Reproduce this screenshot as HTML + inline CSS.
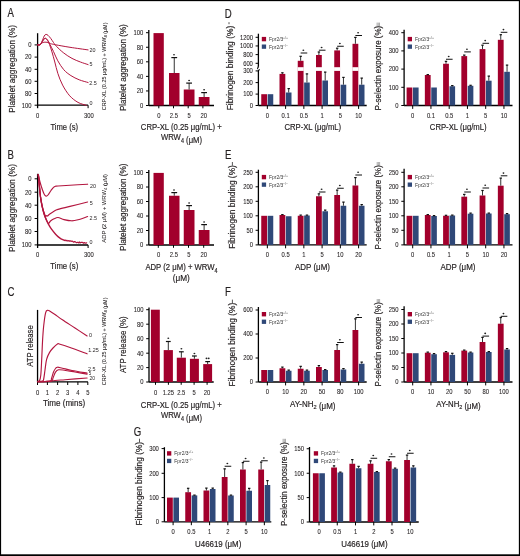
<!DOCTYPE html>
<html><head><meta charset="utf-8"><style>
html,body{margin:0;padding:0;background:#fff;}
svg{display:block;font-family:"Liberation Sans", sans-serif;will-change:transform;}
text{stroke:#231f20;stroke-width:0.18px;}
</style></head><body>
<svg width="520" height="556" viewBox="0 0 520 556">
<rect x="0" y="0" width="520" height="556" fill="#fff"/>
<text x="7.50" y="17.40" font-size="12.2" text-anchor="start" textLength="6.43" lengthAdjust="spacingAndGlyphs" fill="#231f20">A</text>
<text x="7.50" y="158.90" font-size="12.2" text-anchor="start" textLength="6.43" lengthAdjust="spacingAndGlyphs" fill="#231f20">B</text>
<text x="7.50" y="296.30" font-size="12.2" text-anchor="start" textLength="6.96" lengthAdjust="spacingAndGlyphs" fill="#231f20">C</text>
<text x="224.70" y="17.60" font-size="12.2" text-anchor="start" textLength="6.96" lengthAdjust="spacingAndGlyphs" fill="#231f20">D</text>
<text x="224.90" y="158.90" font-size="12.2" text-anchor="start" textLength="6.43" lengthAdjust="spacingAndGlyphs" fill="#231f20">E</text>
<text x="225.00" y="296.30" font-size="12.2" text-anchor="start" textLength="5.89" lengthAdjust="spacingAndGlyphs" fill="#231f20">F</text>
<text x="133.70" y="436.20" font-size="12.2" text-anchor="start" textLength="7.50" lengthAdjust="spacingAndGlyphs" fill="#231f20">G</text>
<line x1="37.60" y1="33.20" x2="37.60" y2="108.20" stroke="#000" stroke-width="1.3"/>
<line x1="37.60" y1="105.20" x2="88.10" y2="105.20" stroke="#000" stroke-width="1.3"/>
<line x1="88.10" y1="105.20" x2="88.10" y2="108.20" stroke="#000" stroke-width="1.0"/>
<line x1="34.60" y1="44.90" x2="37.60" y2="44.90" stroke="#000" stroke-width="1.0"/>
<text x="31.50" y="47.20" font-size="6.5" text-anchor="end" textLength="3.25" lengthAdjust="spacingAndGlyphs" fill="#231f20" style="stroke-width:0.08px">0</text>
<line x1="34.60" y1="57.10" x2="37.60" y2="57.10" stroke="#000" stroke-width="1.0"/>
<text x="31.50" y="59.40" font-size="6.5" text-anchor="end" textLength="6.51" lengthAdjust="spacingAndGlyphs" fill="#231f20" style="stroke-width:0.08px">20</text>
<line x1="34.60" y1="69.30" x2="37.60" y2="69.30" stroke="#000" stroke-width="1.0"/>
<text x="31.50" y="71.60" font-size="6.5" text-anchor="end" textLength="6.51" lengthAdjust="spacingAndGlyphs" fill="#231f20" style="stroke-width:0.08px">40</text>
<line x1="34.60" y1="81.30" x2="37.60" y2="81.30" stroke="#000" stroke-width="1.0"/>
<text x="31.50" y="83.60" font-size="6.5" text-anchor="end" textLength="6.51" lengthAdjust="spacingAndGlyphs" fill="#231f20" style="stroke-width:0.08px">60</text>
<line x1="34.60" y1="93.50" x2="37.60" y2="93.50" stroke="#000" stroke-width="1.0"/>
<text x="31.50" y="95.80" font-size="6.5" text-anchor="end" textLength="6.51" lengthAdjust="spacingAndGlyphs" fill="#231f20" style="stroke-width:0.08px">80</text>
<line x1="34.60" y1="105.20" x2="37.60" y2="105.20" stroke="#000" stroke-width="1.0"/>
<text x="31.50" y="107.50" font-size="6.5" text-anchor="end" textLength="9.76" lengthAdjust="spacingAndGlyphs" fill="#231f20" style="stroke-width:0.08px">100</text>
<text x="37.60" y="117.80" font-size="6.5" text-anchor="middle" textLength="3.25" lengthAdjust="spacingAndGlyphs" fill="#231f20" style="stroke-width:0.08px">0</text>
<text x="89.00" y="117.80" font-size="6.5" text-anchor="middle" textLength="9.76" lengthAdjust="spacingAndGlyphs" fill="#231f20" style="stroke-width:0.08px">300</text>
<text x="64.25" y="129.80" font-size="8.7" text-anchor="middle" textLength="27.70" lengthAdjust="spacingAndGlyphs" fill="#231f20">Time (s)</text>
<text x="14.90" y="68.90" font-size="8.4" text-anchor="middle" textLength="87.80" lengthAdjust="spacingAndGlyphs" fill="#231f20" transform="rotate(-90 14.90 68.90)">Platelet aggregation (%)</text>
<text x="106.00" y="66.40" font-size="5.2" text-anchor="middle" textLength="87.80" lengthAdjust="spacingAndGlyphs" fill="#231f20" transform="rotate(-90 106.00 66.40)" style="stroke-width:0.05px">CRP-XL (0.25 μg/mL) + WRW<tspan font-size="3.64" dy="1.35">4</tspan><tspan dy="-1.35"></tspan> (μM)</text>
<path d="M37.60,44.80 C38.03,44.78 39.32,45.10 40.20,44.70 C41.08,44.30 41.75,42.80 42.90,42.40 C44.05,42.00 45.83,42.10 47.10,42.30 C48.37,42.50 49.12,43.19 50.50,43.60 C51.88,44.01 52.15,44.13 55.40,44.75 C58.65,45.37 64.55,46.44 70.00,47.30 C75.45,48.16 85.08,49.47 88.10,49.90" fill="none" stroke="#b3163f" stroke-width="1.0" stroke-linejoin="round" stroke-linecap="round"/>
<path d="M37.60,44.80 C38.03,44.77 39.37,45.40 40.20,44.60 C41.03,43.80 41.93,41.43 42.60,40.00 C43.27,38.57 43.65,36.93 44.20,36.00 C44.75,35.07 45.27,34.52 45.90,34.40 C46.53,34.28 47.18,34.62 48.00,35.30 C48.82,35.98 49.88,37.30 50.80,38.50 C51.72,39.70 52.53,41.17 53.50,42.50 C54.47,43.83 54.89,44.75 56.60,46.50 C58.31,48.25 61.18,51.02 63.75,53.00 C66.32,54.98 69.22,56.90 72.00,58.40 C74.78,59.90 77.72,60.97 80.40,62.00 C83.08,63.03 86.82,64.17 88.10,64.60" fill="none" stroke="#b3163f" stroke-width="1.0" stroke-linejoin="round" stroke-linecap="round"/>
<path d="M37.60,44.80 C38.03,44.77 39.30,45.32 40.20,44.60 C41.10,43.88 42.20,41.55 43.00,40.50 C43.80,39.45 44.28,38.42 45.00,38.30 C45.72,38.18 46.47,38.77 47.30,39.80 C48.13,40.83 48.97,42.55 50.00,44.50 C51.03,46.45 52.20,48.78 53.50,51.50 C54.80,54.22 56.09,57.77 57.80,60.80 C59.51,63.83 61.57,67.23 63.75,69.70 C65.93,72.17 68.33,73.92 70.90,75.60 C73.48,77.28 76.33,78.65 79.20,79.80 C82.07,80.95 86.62,82.05 88.10,82.50" fill="none" stroke="#b3163f" stroke-width="1.0" stroke-linejoin="round" stroke-linecap="round"/>
<path d="M37.60,44.80 C38.03,44.77 39.30,45.32 40.20,44.60 C41.10,43.88 42.20,41.55 43.00,40.50 C43.80,39.45 44.30,38.42 45.00,38.30 C45.70,38.18 46.45,38.77 47.20,39.80 C47.95,40.83 48.70,42.47 49.50,44.50 C50.30,46.53 51.12,49.08 52.00,52.00 C52.88,54.92 53.83,58.45 54.80,62.00 C55.77,65.55 56.50,69.45 57.80,73.30 C59.10,77.15 60.62,81.35 62.60,85.10 C64.58,88.85 67.13,92.92 69.70,95.80 C72.27,98.68 75.23,100.82 78.00,102.40 C80.77,103.98 84.92,104.82 86.30,105.30" fill="none" stroke="#b3163f" stroke-width="1.0" stroke-linejoin="round" stroke-linecap="round"/>
<text x="92.60" y="51.80" font-size="6.0" text-anchor="middle" textLength="6.01" lengthAdjust="spacingAndGlyphs" fill="#231f20" style="stroke-width:0px">20</text>
<text x="91.10" y="66.00" font-size="6.0" text-anchor="middle" textLength="3.00" lengthAdjust="spacingAndGlyphs" fill="#231f20" style="stroke-width:0px">5</text>
<text x="93.00" y="84.60" font-size="6.0" text-anchor="middle" textLength="7.51" lengthAdjust="spacingAndGlyphs" fill="#231f20" style="stroke-width:0px">2.5</text>
<text x="91.10" y="105.30" font-size="6.0" text-anchor="middle" textLength="3.00" lengthAdjust="spacingAndGlyphs" fill="#231f20" style="stroke-width:0px">0</text>
<line x1="148.80" y1="30.00" x2="148.80" y2="105.50" stroke="#000" stroke-width="1.3"/>
<line x1="146.00" y1="32.70" x2="148.80" y2="32.70" stroke="#000" stroke-width="1.0"/>
<text x="143.30" y="35.00" font-size="6.5" text-anchor="end" textLength="9.76" lengthAdjust="spacingAndGlyphs" fill="#231f20" style="stroke-width:0.08px">100</text>
<line x1="146.00" y1="47.26" x2="148.80" y2="47.26" stroke="#000" stroke-width="1.0"/>
<text x="143.30" y="49.56" font-size="6.5" text-anchor="end" textLength="6.51" lengthAdjust="spacingAndGlyphs" fill="#231f20" style="stroke-width:0.08px">80</text>
<line x1="146.00" y1="61.82" x2="148.80" y2="61.82" stroke="#000" stroke-width="1.0"/>
<text x="143.30" y="64.12" font-size="6.5" text-anchor="end" textLength="6.51" lengthAdjust="spacingAndGlyphs" fill="#231f20" style="stroke-width:0.08px">60</text>
<line x1="146.00" y1="76.38" x2="148.80" y2="76.38" stroke="#000" stroke-width="1.0"/>
<text x="143.30" y="78.68" font-size="6.5" text-anchor="end" textLength="6.51" lengthAdjust="spacingAndGlyphs" fill="#231f20" style="stroke-width:0.08px">40</text>
<line x1="146.00" y1="90.94" x2="148.80" y2="90.94" stroke="#000" stroke-width="1.0"/>
<text x="143.30" y="93.24" font-size="6.5" text-anchor="end" textLength="6.51" lengthAdjust="spacingAndGlyphs" fill="#231f20" style="stroke-width:0.08px">20</text>
<line x1="146.00" y1="105.50" x2="148.80" y2="105.50" stroke="#000" stroke-width="1.0"/>
<text x="143.30" y="107.80" font-size="6.5" text-anchor="end" textLength="3.25" lengthAdjust="spacingAndGlyphs" fill="#231f20" style="stroke-width:0.08px">0</text>
<line x1="148.80" y1="105.50" x2="214.00" y2="105.50" stroke="#000" stroke-width="1.3"/>
<line x1="158.80" y1="105.50" x2="158.80" y2="108.30" stroke="#000" stroke-width="1.0"/>
<line x1="173.50" y1="105.50" x2="173.50" y2="108.30" stroke="#000" stroke-width="1.0"/>
<line x1="188.20" y1="105.50" x2="188.20" y2="108.30" stroke="#000" stroke-width="1.0"/>
<line x1="202.90" y1="105.50" x2="202.90" y2="108.30" stroke="#000" stroke-width="1.0"/>
<rect x="153.50" y="33.10" width="10.30" height="72.40" fill="#a2002c"/>
<rect x="169.00" y="73.00" width="10.50" height="32.50" fill="#a2002c"/>
<line x1="174.25" y1="73.00" x2="174.25" y2="57.50" stroke="#333" stroke-width="1.0"/>
<line x1="171.35" y1="57.60" x2="177.15" y2="57.60" stroke="#111" stroke-width="1.2"/>
<rect x="183.75" y="89.50" width="10.75" height="16.00" fill="#a2002c"/>
<line x1="189.12" y1="89.50" x2="189.12" y2="83.00" stroke="#333" stroke-width="1.0"/>
<line x1="186.22" y1="83.10" x2="192.03" y2="83.10" stroke="#111" stroke-width="1.2"/>
<rect x="198.75" y="97.00" width="10.75" height="8.50" fill="#a2002c"/>
<line x1="204.12" y1="97.00" x2="204.12" y2="92.50" stroke="#333" stroke-width="1.0"/>
<line x1="201.22" y1="92.60" x2="207.03" y2="92.60" stroke="#111" stroke-width="1.2"/>
<ellipse cx="174.00" cy="54.80" rx="0.95" ry="0.8" fill="#222"/>
<ellipse cx="189.10" cy="80.50" rx="0.95" ry="0.8" fill="#222"/>
<ellipse cx="204.10" cy="89.80" rx="0.95" ry="0.8" fill="#222"/>
<text x="158.80" y="117.60" font-size="6.5" text-anchor="middle" textLength="3.25" lengthAdjust="spacingAndGlyphs" fill="#231f20" style="stroke-width:0.08px">0</text>
<text x="173.90" y="117.60" font-size="6.5" text-anchor="middle" textLength="8.13" lengthAdjust="spacingAndGlyphs" fill="#231f20" style="stroke-width:0.08px">2.5</text>
<text x="189.00" y="117.60" font-size="6.5" text-anchor="middle" textLength="3.25" lengthAdjust="spacingAndGlyphs" fill="#231f20" style="stroke-width:0.08px">5</text>
<text x="203.70" y="117.60" font-size="6.5" text-anchor="middle" textLength="6.51" lengthAdjust="spacingAndGlyphs" fill="#231f20" style="stroke-width:0.08px">20</text>
<text x="125.90" y="67.65" font-size="8.4" text-anchor="middle" textLength="86.90" lengthAdjust="spacingAndGlyphs" fill="#231f20" transform="rotate(-90 125.90 67.65)">Platelet aggregation (%)</text>
<text x="181.25" y="130.10" font-size="9.0" text-anchor="middle" textLength="80.90" lengthAdjust="spacingAndGlyphs" fill="#231f20">CRP-XL (0.25 μg/mL) +</text>
<text x="181.50" y="140.40" font-size="9.0" text-anchor="middle" textLength="41.20" lengthAdjust="spacingAndGlyphs" fill="#231f20">WRW<tspan font-size="6.30" dy="2.34">4</tspan><tspan dy="-2.34"></tspan> (μM)</text>
<line x1="37.60" y1="173.80" x2="37.60" y2="248.00" stroke="#000" stroke-width="1.3"/>
<line x1="37.60" y1="245.00" x2="88.10" y2="245.00" stroke="#000" stroke-width="1.3"/>
<line x1="88.10" y1="245.00" x2="88.10" y2="248.00" stroke="#000" stroke-width="1.0"/>
<line x1="34.60" y1="178.80" x2="37.60" y2="178.80" stroke="#000" stroke-width="1.0"/>
<text x="31.50" y="181.10" font-size="6.5" text-anchor="end" textLength="3.25" lengthAdjust="spacingAndGlyphs" fill="#231f20" style="stroke-width:0.08px">0</text>
<line x1="34.60" y1="192.20" x2="37.60" y2="192.20" stroke="#000" stroke-width="1.0"/>
<text x="31.50" y="194.50" font-size="6.5" text-anchor="end" textLength="6.51" lengthAdjust="spacingAndGlyphs" fill="#231f20" style="stroke-width:0.08px">20</text>
<line x1="34.60" y1="205.20" x2="37.60" y2="205.20" stroke="#000" stroke-width="1.0"/>
<text x="31.50" y="207.50" font-size="6.5" text-anchor="end" textLength="6.51" lengthAdjust="spacingAndGlyphs" fill="#231f20" style="stroke-width:0.08px">40</text>
<line x1="34.60" y1="218.50" x2="37.60" y2="218.50" stroke="#000" stroke-width="1.0"/>
<text x="31.50" y="220.80" font-size="6.5" text-anchor="end" textLength="6.51" lengthAdjust="spacingAndGlyphs" fill="#231f20" style="stroke-width:0.08px">60</text>
<line x1="34.60" y1="231.50" x2="37.60" y2="231.50" stroke="#000" stroke-width="1.0"/>
<text x="31.50" y="233.80" font-size="6.5" text-anchor="end" textLength="6.51" lengthAdjust="spacingAndGlyphs" fill="#231f20" style="stroke-width:0.08px">80</text>
<line x1="34.60" y1="244.90" x2="37.60" y2="244.90" stroke="#000" stroke-width="1.0"/>
<text x="31.50" y="247.20" font-size="6.5" text-anchor="end" textLength="9.76" lengthAdjust="spacingAndGlyphs" fill="#231f20" style="stroke-width:0.08px">100</text>
<text x="37.60" y="257.00" font-size="6.5" text-anchor="middle" textLength="3.25" lengthAdjust="spacingAndGlyphs" fill="#231f20" style="stroke-width:0.08px">0</text>
<text x="88.90" y="257.00" font-size="6.5" text-anchor="middle" textLength="9.76" lengthAdjust="spacingAndGlyphs" fill="#231f20" style="stroke-width:0.08px">300</text>
<text x="64.30" y="269.20" font-size="8.7" text-anchor="middle" textLength="28.00" lengthAdjust="spacingAndGlyphs" fill="#231f20">Time (s)</text>
<text x="14.90" y="208.10" font-size="8.4" text-anchor="middle" textLength="88.00" lengthAdjust="spacingAndGlyphs" fill="#231f20" transform="rotate(-90 14.90 208.10)">Platelet aggregation (%)</text>
<text x="106.00" y="208.30" font-size="5.2" text-anchor="middle" textLength="68.80" lengthAdjust="spacingAndGlyphs" fill="#231f20" transform="rotate(-90 106.00 208.30)" style="stroke-width:0.05px">ADP (2 μM) + WRW<tspan font-size="3.64" dy="1.35">4</tspan><tspan dy="-1.35"></tspan> (μM)</text>
<path d="M38.30,174.50 C38.58,175.75 39.30,179.42 40.00,182.00 C40.70,184.58 41.75,187.87 42.50,190.00 C43.25,192.13 43.88,193.78 44.50,194.80 C45.12,195.82 45.62,196.07 46.20,196.10 C46.78,196.13 47.20,195.93 48.00,195.00 C48.80,194.07 50.08,191.78 51.00,190.50 C51.92,189.22 52.73,188.02 53.50,187.30 C54.27,186.58 54.85,186.42 55.60,186.20 C56.35,185.98 55.60,186.17 58.00,186.00 C60.40,185.83 65.07,185.50 70.00,185.20 C74.93,184.90 84.67,184.37 87.60,184.20" fill="none" stroke="#b3163f" stroke-width="1.15" stroke-linejoin="round" stroke-linecap="round"/>
<path d="M38.30,174.50 C38.47,176.25 38.93,181.28 39.30,185.00 C39.67,188.72 40.02,193.22 40.50,196.80 C40.98,200.38 41.60,203.83 42.20,206.50 C42.80,209.17 43.55,211.18 44.10,212.80 C44.65,214.42 45.10,215.73 45.50,216.20 C45.90,216.67 46.20,215.62 46.50,215.60 C46.80,215.58 46.75,216.37 47.30,216.10 C47.85,215.83 48.68,214.82 49.80,214.00 C50.92,213.18 52.63,211.97 54.00,211.20 C55.37,210.43 55.33,210.20 58.00,209.40 C60.67,208.60 65.07,207.63 70.00,206.40 C74.93,205.17 84.67,202.73 87.60,202.00" fill="none" stroke="#b3163f" stroke-width="1.15" stroke-linejoin="round" stroke-linecap="round"/>
<path d="M38.30,174.50 C38.47,176.25 38.93,181.28 39.30,185.00 C39.67,188.72 40.02,193.22 40.50,196.80 C40.98,200.38 41.60,203.63 42.20,206.50 C42.80,209.37 43.43,211.83 44.10,214.00 C44.77,216.17 45.48,217.93 46.20,219.50 C46.92,221.07 47.68,223.15 48.40,223.40 C49.12,223.65 49.57,221.77 50.50,221.00 C51.43,220.23 52.75,219.38 54.00,218.80 C55.25,218.22 56.33,217.37 58.00,217.50 C59.67,217.63 61.75,219.05 64.00,219.60 C66.25,220.15 69.17,220.77 71.50,220.80 C73.83,220.83 75.32,220.52 78.00,219.80 C80.68,219.08 86.00,217.05 87.60,216.50" fill="none" stroke="#b3163f" stroke-width="1.15" stroke-linejoin="round" stroke-linecap="round"/>
<path d="M38.30,174.50 C38.47,176.25 38.93,181.28 39.30,185.00 C39.67,188.72 40.02,193.22 40.50,196.80 C40.98,200.38 41.60,203.63 42.20,206.50 C42.80,209.37 43.43,211.83 44.10,214.00 C44.77,216.17 45.48,217.82 46.20,219.50 C46.92,221.18 47.52,222.48 48.40,224.10 C49.28,225.72 50.30,227.52 51.50,229.20 C52.70,230.88 54.52,232.97 55.60,234.20 C56.68,235.43 57.10,235.83 58.00,236.60 C58.90,237.37 59.88,238.17 61.00,238.80 C62.12,239.43 64.08,240.13 64.70,240.40" fill="none" stroke="#b3163f" stroke-width="1.4" stroke-linejoin="round" stroke-linecap="round"/>
<polyline points="64.70,240.21 65.40,240.14 66.10,240.82 66.80,240.30 67.50,240.93 68.20,240.86 68.90,240.63 69.60,241.24 70.30,240.83 71.00,241.37 71.70,241.08 72.40,241.20 73.10,241.67 73.80,242.20 74.50,241.52 75.20,241.72 75.90,242.25 76.60,242.69 77.30,242.36 78.00,242.24 78.70,242.95 79.40,242.00 80.10,242.96 80.80,242.40 81.50,242.30 82.20,242.32 82.90,242.58 83.60,243.19 84.30,242.53 85.00,243.01 85.70,243.10 86.40,242.84 87.10,243.05" fill="none" stroke="#b3163f" stroke-width="1.2" stroke-linejoin="round"/>
<text x="93.00" y="187.80" font-size="6.0" text-anchor="middle" textLength="6.01" lengthAdjust="spacingAndGlyphs" fill="#231f20" style="stroke-width:0px">20</text>
<text x="91.20" y="205.30" font-size="6.0" text-anchor="middle" textLength="3.00" lengthAdjust="spacingAndGlyphs" fill="#231f20" style="stroke-width:0px">5</text>
<text x="93.30" y="219.50" font-size="6.0" text-anchor="middle" textLength="7.51" lengthAdjust="spacingAndGlyphs" fill="#231f20" style="stroke-width:0px">2.5</text>
<text x="91.00" y="243.70" font-size="6.0" text-anchor="middle" textLength="3.00" lengthAdjust="spacingAndGlyphs" fill="#231f20" style="stroke-width:0px">0</text>
<line x1="148.80" y1="170.00" x2="148.80" y2="245.00" stroke="#000" stroke-width="1.3"/>
<line x1="146.00" y1="172.50" x2="148.80" y2="172.50" stroke="#000" stroke-width="1.0"/>
<text x="143.30" y="174.80" font-size="6.5" text-anchor="end" textLength="9.76" lengthAdjust="spacingAndGlyphs" fill="#231f20" style="stroke-width:0.08px">100</text>
<line x1="146.00" y1="187.00" x2="148.80" y2="187.00" stroke="#000" stroke-width="1.0"/>
<text x="143.30" y="189.30" font-size="6.5" text-anchor="end" textLength="6.51" lengthAdjust="spacingAndGlyphs" fill="#231f20" style="stroke-width:0.08px">80</text>
<line x1="146.00" y1="201.50" x2="148.80" y2="201.50" stroke="#000" stroke-width="1.0"/>
<text x="143.30" y="203.80" font-size="6.5" text-anchor="end" textLength="6.51" lengthAdjust="spacingAndGlyphs" fill="#231f20" style="stroke-width:0.08px">60</text>
<line x1="146.00" y1="216.00" x2="148.80" y2="216.00" stroke="#000" stroke-width="1.0"/>
<text x="143.30" y="218.30" font-size="6.5" text-anchor="end" textLength="6.51" lengthAdjust="spacingAndGlyphs" fill="#231f20" style="stroke-width:0.08px">40</text>
<line x1="146.00" y1="230.50" x2="148.80" y2="230.50" stroke="#000" stroke-width="1.0"/>
<text x="143.30" y="232.80" font-size="6.5" text-anchor="end" textLength="6.51" lengthAdjust="spacingAndGlyphs" fill="#231f20" style="stroke-width:0.08px">20</text>
<line x1="146.00" y1="245.00" x2="148.80" y2="245.00" stroke="#000" stroke-width="1.0"/>
<text x="143.30" y="247.30" font-size="6.5" text-anchor="end" textLength="3.25" lengthAdjust="spacingAndGlyphs" fill="#231f20" style="stroke-width:0.08px">0</text>
<line x1="148.80" y1="245.00" x2="214.00" y2="245.00" stroke="#000" stroke-width="1.3"/>
<line x1="158.30" y1="245.00" x2="158.30" y2="247.80" stroke="#000" stroke-width="1.0"/>
<line x1="173.50" y1="245.00" x2="173.50" y2="247.80" stroke="#000" stroke-width="1.0"/>
<line x1="188.50" y1="245.00" x2="188.50" y2="247.80" stroke="#000" stroke-width="1.0"/>
<line x1="203.70" y1="245.00" x2="203.70" y2="247.80" stroke="#000" stroke-width="1.0"/>
<rect x="153.50" y="172.90" width="10.30" height="72.10" fill="#a2002c"/>
<rect x="169.00" y="195.75" width="10.50" height="49.25" fill="#a2002c"/>
<line x1="174.25" y1="195.75" x2="174.25" y2="192.50" stroke="#333" stroke-width="1.0"/>
<line x1="171.35" y1="192.60" x2="177.15" y2="192.60" stroke="#111" stroke-width="1.2"/>
<rect x="183.75" y="210.00" width="10.75" height="35.00" fill="#a2002c"/>
<line x1="189.12" y1="210.00" x2="189.12" y2="205.50" stroke="#333" stroke-width="1.0"/>
<line x1="186.22" y1="205.60" x2="192.03" y2="205.60" stroke="#111" stroke-width="1.2"/>
<rect x="198.75" y="230.00" width="10.75" height="15.00" fill="#a2002c"/>
<line x1="204.12" y1="230.00" x2="204.12" y2="224.50" stroke="#333" stroke-width="1.0"/>
<line x1="201.22" y1="224.60" x2="207.03" y2="224.60" stroke="#111" stroke-width="1.2"/>
<ellipse cx="174.00" cy="190.00" rx="0.95" ry="0.8" fill="#222"/>
<ellipse cx="189.10" cy="203.00" rx="0.95" ry="0.8" fill="#222"/>
<ellipse cx="204.10" cy="222.00" rx="0.95" ry="0.8" fill="#222"/>
<text x="158.60" y="256.80" font-size="6.5" text-anchor="middle" textLength="3.25" lengthAdjust="spacingAndGlyphs" fill="#231f20" style="stroke-width:0.08px">0</text>
<text x="173.90" y="256.80" font-size="6.5" text-anchor="middle" textLength="8.13" lengthAdjust="spacingAndGlyphs" fill="#231f20" style="stroke-width:0.08px">2.5</text>
<text x="188.80" y="256.80" font-size="6.5" text-anchor="middle" textLength="3.25" lengthAdjust="spacingAndGlyphs" fill="#231f20" style="stroke-width:0.08px">5</text>
<text x="203.70" y="256.80" font-size="6.5" text-anchor="middle" textLength="6.51" lengthAdjust="spacingAndGlyphs" fill="#231f20" style="stroke-width:0.08px">20</text>
<text x="125.90" y="207.30" font-size="8.4" text-anchor="middle" textLength="87.50" lengthAdjust="spacingAndGlyphs" fill="#231f20" transform="rotate(-90 125.90 207.30)">Platelet aggregation (%)</text>
<text x="181.50" y="270.30" font-size="9.0" text-anchor="middle" textLength="72.20" lengthAdjust="spacingAndGlyphs" fill="#231f20">ADP (2 μM) + WRW<tspan font-size="6.30" dy="2.34">4</tspan><tspan dy="-2.34"></tspan></text>
<text x="181.25" y="280.50" font-size="9.0" text-anchor="middle" textLength="17.10" lengthAdjust="spacingAndGlyphs" fill="#231f20">(μM)</text>
<line x1="37.55" y1="309.90" x2="37.55" y2="381.90" stroke="#000" stroke-width="1.3"/>
<line x1="37.55" y1="381.90" x2="87.90" y2="381.90" stroke="#000" stroke-width="1.3"/>
<line x1="37.50" y1="381.90" x2="37.50" y2="385.00" stroke="#000" stroke-width="1.0"/>
<text x="37.50" y="394.50" font-size="6.5" text-anchor="middle" textLength="3.25" lengthAdjust="spacingAndGlyphs" fill="#231f20" style="stroke-width:0.08px">0</text>
<line x1="47.40" y1="381.90" x2="47.40" y2="385.00" stroke="#000" stroke-width="1.0"/>
<text x="47.40" y="394.50" font-size="6.5" text-anchor="middle" textLength="3.25" lengthAdjust="spacingAndGlyphs" fill="#231f20" style="stroke-width:0.08px">1</text>
<line x1="57.60" y1="381.90" x2="57.60" y2="385.00" stroke="#000" stroke-width="1.0"/>
<text x="57.60" y="394.50" font-size="6.5" text-anchor="middle" textLength="3.25" lengthAdjust="spacingAndGlyphs" fill="#231f20" style="stroke-width:0.08px">2</text>
<line x1="67.70" y1="381.90" x2="67.70" y2="385.00" stroke="#000" stroke-width="1.0"/>
<text x="67.70" y="394.50" font-size="6.5" text-anchor="middle" textLength="3.25" lengthAdjust="spacingAndGlyphs" fill="#231f20" style="stroke-width:0.08px">3</text>
<line x1="77.90" y1="381.90" x2="77.90" y2="385.00" stroke="#000" stroke-width="1.0"/>
<text x="77.90" y="394.50" font-size="6.5" text-anchor="middle" textLength="3.25" lengthAdjust="spacingAndGlyphs" fill="#231f20" style="stroke-width:0.08px">4</text>
<line x1="87.80" y1="381.90" x2="87.80" y2="385.00" stroke="#000" stroke-width="1.0"/>
<text x="87.80" y="394.50" font-size="6.5" text-anchor="middle" textLength="3.25" lengthAdjust="spacingAndGlyphs" fill="#231f20" style="stroke-width:0.08px">5</text>
<text x="64.00" y="406.20" font-size="8.7" text-anchor="middle" textLength="42.20" lengthAdjust="spacingAndGlyphs" fill="#231f20">Time (mins)</text>
<text x="33.00" y="346.00" font-size="8.4" text-anchor="middle" textLength="41.40" lengthAdjust="spacingAndGlyphs" fill="#231f20" transform="rotate(-90 33.00 346.00)">ATP release</text>
<text x="106.00" y="341.40" font-size="5.2" text-anchor="middle" textLength="87.80" lengthAdjust="spacingAndGlyphs" fill="#231f20" transform="rotate(-90 106.00 341.40)" style="stroke-width:0.05px">CRP-XL (0.25 μg/mL) + WRW<tspan font-size="3.64" dy="1.35">4</tspan><tspan dy="-1.35"></tspan> (μM)</text>
<path d="M37.60,381.30 C37.92,381.22 38.97,381.85 39.50,380.80 C40.03,379.75 40.43,378.58 40.80,375.00 C41.17,371.42 41.40,365.13 41.70,359.30 C42.00,353.47 42.27,345.60 42.60,340.00 C42.93,334.40 43.20,330.23 43.70,325.70 C44.20,321.17 44.95,315.37 45.60,312.80 C46.25,310.23 46.87,310.57 47.60,310.30 C48.33,310.03 48.77,310.50 50.00,311.20 C51.23,311.90 52.93,313.07 55.00,314.50 C57.07,315.93 59.07,317.55 62.40,319.80 C65.73,322.05 70.88,325.30 75.00,328.00 C79.12,330.70 85.08,334.67 87.10,336.00" fill="none" stroke="#b3163f" stroke-width="1.15" stroke-linejoin="round" stroke-linecap="round"/>
<path d="M37.60,381.50 C38.42,381.42 41.48,381.42 42.50,381.00 C43.52,380.58 43.28,380.83 43.70,379.00 C44.12,377.17 44.52,373.28 45.00,370.00 C45.48,366.72 45.83,362.23 46.60,359.30 C47.37,356.37 48.53,354.28 49.60,352.40 C50.67,350.52 51.68,349.42 53.00,348.00 C54.32,346.58 56.33,344.53 57.50,343.90 C58.67,343.27 57.92,343.60 60.00,344.20 C62.08,344.80 65.48,345.90 70.00,347.50 C74.52,349.10 84.25,352.75 87.10,353.80" fill="none" stroke="#b3163f" stroke-width="1.15" stroke-linejoin="round" stroke-linecap="round"/>
<path d="M37.60,381.60 C39.67,381.55 47.68,381.82 50.00,381.30 C52.32,380.78 50.92,380.05 51.50,378.50 C52.08,376.95 52.83,373.67 53.50,372.00 C54.17,370.33 54.83,369.30 55.50,368.50 C56.17,367.70 56.35,367.25 57.50,367.20 C58.65,367.15 59.98,367.65 62.40,368.20 C64.82,368.75 67.88,369.68 72.00,370.50 C76.12,371.32 84.58,372.67 87.10,373.10" fill="none" stroke="#b3163f" stroke-width="1.15" stroke-linejoin="round" stroke-linecap="round"/>
<path d="M37.60,381.60 C39.83,381.55 48.43,381.90 51.00,381.30 C53.57,380.70 52.25,379.53 53.00,378.00 C53.75,376.47 54.58,373.47 55.50,372.10 C56.42,370.73 57.02,370.12 58.50,369.80 C59.98,369.48 61.65,369.83 64.40,370.20 C67.15,370.57 71.22,371.35 75.00,372.00 C78.78,372.65 85.08,373.75 87.10,374.10" fill="none" stroke="#b3163f" stroke-width="1.15" stroke-linejoin="round" stroke-linecap="round"/>
<path d="M37.60,381.60 C38.83,381.58 42.10,381.68 45.00,381.50 C47.90,381.32 51.67,380.80 55.00,380.50 C58.33,380.20 59.65,380.12 65.00,379.70 C70.35,379.28 83.42,378.28 87.10,378.00" fill="none" stroke="#b3163f" stroke-width="1.15" stroke-linejoin="round" stroke-linecap="round"/>
<text x="90.50" y="336.60" font-size="6.0" text-anchor="middle" textLength="3.00" lengthAdjust="spacingAndGlyphs" fill="#231f20" style="stroke-width:0px">0</text>
<text x="93.60" y="351.70" font-size="6.0" text-anchor="middle" textLength="10.51" lengthAdjust="spacingAndGlyphs" fill="#231f20" style="stroke-width:0px">1.25</text>
<text x="91.80" y="370.60" font-size="6.0" text-anchor="middle" textLength="7.51" lengthAdjust="spacingAndGlyphs" fill="#231f20" style="stroke-width:0px">2.5</text>
<text x="90.00" y="374.90" font-size="5.0" text-anchor="middle" textLength="2.50" lengthAdjust="spacingAndGlyphs" fill="#231f20" style="stroke-width:0px">5</text>
<text x="92.20" y="380.30" font-size="5.5" text-anchor="middle" textLength="5.51" lengthAdjust="spacingAndGlyphs" fill="#231f20" style="stroke-width:0px">20</text>
<line x1="149.00" y1="307.60" x2="149.00" y2="382.00" stroke="#000" stroke-width="1.3"/>
<line x1="146.20" y1="309.70" x2="149.00" y2="309.70" stroke="#000" stroke-width="1.0"/>
<text x="143.50" y="312.00" font-size="6.5" text-anchor="end" textLength="9.76" lengthAdjust="spacingAndGlyphs" fill="#231f20" style="stroke-width:0.08px">100</text>
<line x1="146.20" y1="324.20" x2="149.00" y2="324.20" stroke="#000" stroke-width="1.0"/>
<text x="143.50" y="326.50" font-size="6.5" text-anchor="end" textLength="6.51" lengthAdjust="spacingAndGlyphs" fill="#231f20" style="stroke-width:0.08px">80</text>
<line x1="146.20" y1="338.70" x2="149.00" y2="338.70" stroke="#000" stroke-width="1.0"/>
<text x="143.50" y="341.00" font-size="6.5" text-anchor="end" textLength="6.51" lengthAdjust="spacingAndGlyphs" fill="#231f20" style="stroke-width:0.08px">60</text>
<line x1="146.20" y1="353.20" x2="149.00" y2="353.20" stroke="#000" stroke-width="1.0"/>
<text x="143.50" y="355.50" font-size="6.5" text-anchor="end" textLength="6.51" lengthAdjust="spacingAndGlyphs" fill="#231f20" style="stroke-width:0.08px">40</text>
<line x1="146.20" y1="367.60" x2="149.00" y2="367.60" stroke="#000" stroke-width="1.0"/>
<text x="143.50" y="369.90" font-size="6.5" text-anchor="end" textLength="6.51" lengthAdjust="spacingAndGlyphs" fill="#231f20" style="stroke-width:0.08px">20</text>
<line x1="146.20" y1="382.00" x2="149.00" y2="382.00" stroke="#000" stroke-width="1.0"/>
<text x="143.50" y="384.30" font-size="6.5" text-anchor="end" textLength="3.25" lengthAdjust="spacingAndGlyphs" fill="#231f20" style="stroke-width:0.08px">0</text>
<line x1="149.00" y1="382.00" x2="213.70" y2="382.00" stroke="#000" stroke-width="1.3"/>
<line x1="155.50" y1="382.00" x2="155.50" y2="384.80" stroke="#000" stroke-width="1.0"/>
<line x1="168.40" y1="382.00" x2="168.40" y2="384.80" stroke="#000" stroke-width="1.0"/>
<line x1="181.20" y1="382.00" x2="181.20" y2="384.80" stroke="#000" stroke-width="1.0"/>
<line x1="194.10" y1="382.00" x2="194.10" y2="384.80" stroke="#000" stroke-width="1.0"/>
<line x1="207.10" y1="382.00" x2="207.10" y2="384.80" stroke="#000" stroke-width="1.0"/>
<rect x="150.90" y="309.70" width="8.90" height="72.30" fill="#a2002c"/>
<rect x="163.70" y="350.10" width="9.20" height="31.90" fill="#a2002c"/>
<line x1="168.30" y1="350.10" x2="168.30" y2="341.40" stroke="#333" stroke-width="1.0"/>
<line x1="165.90" y1="341.50" x2="170.70" y2="341.50" stroke="#111" stroke-width="1.2"/>
<rect x="176.80" y="357.70" width="9.10" height="24.30" fill="#a2002c"/>
<line x1="181.35" y1="357.70" x2="181.35" y2="351.70" stroke="#333" stroke-width="1.0"/>
<line x1="178.95" y1="351.80" x2="183.75" y2="351.80" stroke="#111" stroke-width="1.2"/>
<rect x="189.90" y="358.80" width="9.00" height="23.20" fill="#a2002c"/>
<line x1="194.40" y1="358.80" x2="194.40" y2="355.90" stroke="#333" stroke-width="1.0"/>
<line x1="192.00" y1="356.00" x2="196.80" y2="356.00" stroke="#111" stroke-width="1.2"/>
<rect x="203.20" y="364.10" width="8.90" height="17.90" fill="#a2002c"/>
<line x1="207.65" y1="364.10" x2="207.65" y2="361.50" stroke="#333" stroke-width="1.0"/>
<line x1="205.25" y1="361.60" x2="210.05" y2="361.60" stroke="#111" stroke-width="1.2"/>
<ellipse cx="168.30" cy="338.30" rx="0.95" ry="0.8" fill="#222"/>
<ellipse cx="181.40" cy="348.80" rx="0.95" ry="0.8" fill="#222"/>
<ellipse cx="194.40" cy="353.50" rx="0.95" ry="0.8" fill="#222"/>
<ellipse cx="206.50" cy="358.40" rx="0.95" ry="0.8" fill="#222"/>
<ellipse cx="208.70" cy="358.40" rx="0.95" ry="0.8" fill="#222"/>
<text x="155.50" y="394.80" font-size="6.5" text-anchor="middle" textLength="3.25" lengthAdjust="spacingAndGlyphs" fill="#231f20" style="stroke-width:0.08px">0</text>
<text x="168.40" y="394.80" font-size="6.5" text-anchor="middle" textLength="11.39" lengthAdjust="spacingAndGlyphs" fill="#231f20" style="stroke-width:0.08px">1.25</text>
<text x="181.20" y="394.80" font-size="6.5" text-anchor="middle" textLength="8.13" lengthAdjust="spacingAndGlyphs" fill="#231f20" style="stroke-width:0.08px">2.5</text>
<text x="194.10" y="394.80" font-size="6.5" text-anchor="middle" textLength="3.25" lengthAdjust="spacingAndGlyphs" fill="#231f20" style="stroke-width:0.08px">5</text>
<text x="207.10" y="394.80" font-size="6.5" text-anchor="middle" textLength="6.51" lengthAdjust="spacingAndGlyphs" fill="#231f20" style="stroke-width:0.08px">20</text>
<text x="126.00" y="344.70" font-size="8.4" text-anchor="middle" textLength="56.60" lengthAdjust="spacingAndGlyphs" fill="#231f20" transform="rotate(-90 126.00 344.70)">ATP release (%)</text>
<text x="181.25" y="408.00" font-size="9.0" text-anchor="middle" textLength="80.90" lengthAdjust="spacingAndGlyphs" fill="#231f20">CRP-XL (0.25 μg/mL) +</text>
<text x="181.50" y="418.40" font-size="9.0" text-anchor="middle" textLength="41.20" lengthAdjust="spacingAndGlyphs" fill="#231f20">WRW<tspan font-size="6.30" dy="2.34">4</tspan><tspan dy="-2.34"></tspan> (μM)</text>
<line x1="258.40" y1="33.70" x2="258.40" y2="105.50" stroke="#000" stroke-width="1.3"/>
<line x1="255.60" y1="37.30" x2="258.40" y2="37.30" stroke="#000" stroke-width="1.0"/>
<text x="252.90" y="39.60" font-size="6.5" text-anchor="end" textLength="13.01" lengthAdjust="spacingAndGlyphs" fill="#231f20" style="stroke-width:0.08px">1200</text>
<line x1="255.60" y1="45.95" x2="258.40" y2="45.95" stroke="#000" stroke-width="1.0"/>
<text x="252.90" y="48.25" font-size="6.5" text-anchor="end" textLength="13.01" lengthAdjust="spacingAndGlyphs" fill="#231f20" style="stroke-width:0.08px">1000</text>
<line x1="255.60" y1="54.60" x2="258.40" y2="54.60" stroke="#000" stroke-width="1.0"/>
<text x="252.90" y="56.90" font-size="6.5" text-anchor="end" textLength="9.76" lengthAdjust="spacingAndGlyphs" fill="#231f20" style="stroke-width:0.08px">800</text>
<line x1="255.60" y1="63.30" x2="258.40" y2="63.30" stroke="#000" stroke-width="1.0"/>
<text x="252.90" y="65.60" font-size="6.5" text-anchor="end" textLength="9.76" lengthAdjust="spacingAndGlyphs" fill="#231f20" style="stroke-width:0.08px">600</text>
<line x1="255.60" y1="70.90" x2="258.40" y2="70.90" stroke="#000" stroke-width="1.0"/>
<text x="252.90" y="73.20" font-size="6.5" text-anchor="end" textLength="9.76" lengthAdjust="spacingAndGlyphs" fill="#231f20" style="stroke-width:0.08px">300</text>
<line x1="255.60" y1="82.60" x2="258.40" y2="82.60" stroke="#000" stroke-width="1.0"/>
<text x="252.90" y="84.90" font-size="6.5" text-anchor="end" textLength="9.76" lengthAdjust="spacingAndGlyphs" fill="#231f20" style="stroke-width:0.08px">200</text>
<line x1="255.60" y1="94.10" x2="258.40" y2="94.10" stroke="#000" stroke-width="1.0"/>
<text x="252.90" y="96.40" font-size="6.5" text-anchor="end" textLength="9.76" lengthAdjust="spacingAndGlyphs" fill="#231f20" style="stroke-width:0.08px">100</text>
<line x1="255.60" y1="105.50" x2="258.40" y2="105.50" stroke="#000" stroke-width="1.0"/>
<text x="252.90" y="107.80" font-size="6.5" text-anchor="end" textLength="3.25" lengthAdjust="spacingAndGlyphs" fill="#231f20" style="stroke-width:0.08px">0</text>
<line x1="258.40" y1="105.50" x2="366.70" y2="105.50" stroke="#000" stroke-width="1.3"/>
<line x1="267.35" y1="105.50" x2="267.35" y2="108.90" stroke="#000" stroke-width="1.0"/>
<rect x="261.25" y="94.20" width="5.80" height="11.30" fill="#a2002c"/>
<rect x="267.65" y="94.20" width="5.60" height="11.30" fill="#2f4878"/>
<text x="267.35" y="118.10" font-size="6.5" text-anchor="middle" textLength="3.25" lengthAdjust="spacingAndGlyphs" fill="#231f20" style="stroke-width:0.08px">0</text>
<line x1="285.60" y1="105.50" x2="285.60" y2="108.90" stroke="#000" stroke-width="1.0"/>
<rect x="279.50" y="73.90" width="5.80" height="31.60" fill="#a2002c"/>
<line x1="282.40" y1="73.90" x2="282.40" y2="72.70" stroke="#333" stroke-width="1.0"/>
<line x1="281.20" y1="72.80" x2="283.60" y2="72.80" stroke="#111" stroke-width="1.2"/>
<rect x="285.90" y="92.50" width="5.60" height="13.00" fill="#2f4878"/>
<line x1="288.70" y1="92.50" x2="288.70" y2="88.50" stroke="#333" stroke-width="1.0"/>
<line x1="287.50" y1="88.60" x2="289.90" y2="88.60" stroke="#111" stroke-width="1.2"/>
<text x="285.60" y="118.10" font-size="6.5" text-anchor="middle" textLength="8.13" lengthAdjust="spacingAndGlyphs" fill="#231f20" style="stroke-width:0.08px">0.1</text>
<line x1="303.85" y1="105.50" x2="303.85" y2="108.90" stroke="#000" stroke-width="1.0"/>
<rect x="297.75" y="60.80" width="5.80" height="44.70" fill="#a2002c"/>
<line x1="300.65" y1="60.80" x2="300.65" y2="56.20" stroke="#333" stroke-width="1.0"/>
<line x1="299.45" y1="56.30" x2="301.85" y2="56.30" stroke="#111" stroke-width="1.2"/>
<rect x="304.15" y="82.50" width="5.60" height="23.00" fill="#2f4878"/>
<line x1="306.95" y1="82.50" x2="306.95" y2="73.80" stroke="#333" stroke-width="1.0"/>
<line x1="305.75" y1="73.90" x2="308.15" y2="73.90" stroke="#111" stroke-width="1.2"/>
<text x="303.85" y="118.10" font-size="6.5" text-anchor="middle" textLength="8.13" lengthAdjust="spacingAndGlyphs" fill="#231f20" style="stroke-width:0.08px">0.5</text>
<rect x="297.55" y="67.20" width="6.20" height="3.70" fill="#fff"/>
<line x1="322.10" y1="105.50" x2="322.10" y2="108.90" stroke="#000" stroke-width="1.0"/>
<rect x="316.00" y="55.00" width="5.80" height="50.50" fill="#a2002c"/>
<line x1="318.90" y1="55.00" x2="318.90" y2="51.90" stroke="#333" stroke-width="1.0"/>
<line x1="317.70" y1="52.00" x2="320.10" y2="52.00" stroke="#111" stroke-width="1.2"/>
<rect x="322.40" y="80.50" width="5.60" height="25.00" fill="#2f4878"/>
<line x1="325.20" y1="80.50" x2="325.20" y2="72.00" stroke="#333" stroke-width="1.0"/>
<line x1="324.00" y1="72.10" x2="326.40" y2="72.10" stroke="#111" stroke-width="1.2"/>
<text x="322.10" y="118.10" font-size="6.5" text-anchor="middle" textLength="3.25" lengthAdjust="spacingAndGlyphs" fill="#231f20" style="stroke-width:0.08px">1</text>
<rect x="315.80" y="67.20" width="6.20" height="3.70" fill="#fff"/>
<line x1="340.35" y1="105.50" x2="340.35" y2="108.90" stroke="#000" stroke-width="1.0"/>
<rect x="334.25" y="50.40" width="5.80" height="55.10" fill="#a2002c"/>
<line x1="337.15" y1="50.40" x2="337.15" y2="48.10" stroke="#333" stroke-width="1.0"/>
<line x1="335.95" y1="48.20" x2="338.35" y2="48.20" stroke="#111" stroke-width="1.2"/>
<rect x="340.65" y="84.70" width="5.60" height="20.80" fill="#2f4878"/>
<line x1="343.45" y1="84.70" x2="343.45" y2="77.30" stroke="#333" stroke-width="1.0"/>
<line x1="342.25" y1="77.40" x2="344.65" y2="77.40" stroke="#111" stroke-width="1.2"/>
<text x="340.35" y="118.10" font-size="6.5" text-anchor="middle" textLength="3.25" lengthAdjust="spacingAndGlyphs" fill="#231f20" style="stroke-width:0.08px">5</text>
<rect x="334.05" y="67.20" width="6.20" height="3.70" fill="#fff"/>
<line x1="358.60" y1="105.50" x2="358.60" y2="108.90" stroke="#000" stroke-width="1.0"/>
<rect x="352.50" y="43.80" width="5.80" height="61.70" fill="#a2002c"/>
<line x1="355.40" y1="43.80" x2="355.40" y2="37.30" stroke="#333" stroke-width="1.0"/>
<line x1="354.20" y1="37.40" x2="356.60" y2="37.40" stroke="#111" stroke-width="1.2"/>
<rect x="358.90" y="84.70" width="5.60" height="20.80" fill="#2f4878"/>
<line x1="361.70" y1="84.70" x2="361.70" y2="78.00" stroke="#333" stroke-width="1.0"/>
<line x1="360.50" y1="78.10" x2="362.90" y2="78.10" stroke="#111" stroke-width="1.2"/>
<text x="358.60" y="118.10" font-size="6.5" text-anchor="middle" textLength="6.51" lengthAdjust="spacingAndGlyphs" fill="#231f20" style="stroke-width:0.08px">10</text>
<rect x="352.30" y="67.20" width="6.20" height="3.70" fill="#fff"/>
<line x1="300.65" y1="53.00" x2="307.25" y2="53.00" stroke="#111" stroke-width="1.0"/>
<ellipse cx="303.35" cy="50.30" rx="0.95" ry="0.8" fill="#222"/>
<line x1="318.90" y1="50.20" x2="325.50" y2="50.20" stroke="#111" stroke-width="1.0"/>
<ellipse cx="321.60" cy="47.50" rx="0.95" ry="0.8" fill="#222"/>
<line x1="337.15" y1="46.25" x2="343.75" y2="46.25" stroke="#111" stroke-width="1.0"/>
<ellipse cx="339.85" cy="43.55" rx="0.95" ry="0.8" fill="#222"/>
<line x1="355.40" y1="35.50" x2="362.00" y2="35.50" stroke="#111" stroke-width="1.0"/>
<ellipse cx="358.10" cy="32.80" rx="0.95" ry="0.8" fill="#222"/>
<text x="312.80" y="129.50" font-size="8.7" text-anchor="middle" textLength="56.80" lengthAdjust="spacingAndGlyphs" fill="#231f20">CRP-XL (μg/mL)</text>
<text x="232.60" y="68.05" font-size="8.4" text-anchor="middle" textLength="84.50" lengthAdjust="spacingAndGlyphs" fill="#231f20" transform="rotate(-90 232.60 68.05)">Fibrinogen binding (%)</text>
<line x1="229.00" y1="22.20" x2="229.00" y2="24.20" stroke="#444" stroke-width="0.9"/>
<line x1="404.10" y1="29.80" x2="404.10" y2="105.50" stroke="#000" stroke-width="1.3"/>
<line x1="401.30" y1="32.70" x2="404.10" y2="32.70" stroke="#000" stroke-width="1.0"/>
<text x="398.60" y="35.00" font-size="6.5" text-anchor="end" textLength="9.76" lengthAdjust="spacingAndGlyphs" fill="#231f20" style="stroke-width:0.08px">400</text>
<line x1="401.30" y1="50.90" x2="404.10" y2="50.90" stroke="#000" stroke-width="1.0"/>
<text x="398.60" y="53.20" font-size="6.5" text-anchor="end" textLength="9.76" lengthAdjust="spacingAndGlyphs" fill="#231f20" style="stroke-width:0.08px">300</text>
<line x1="401.30" y1="69.10" x2="404.10" y2="69.10" stroke="#000" stroke-width="1.0"/>
<text x="398.60" y="71.40" font-size="6.5" text-anchor="end" textLength="9.76" lengthAdjust="spacingAndGlyphs" fill="#231f20" style="stroke-width:0.08px">200</text>
<line x1="401.30" y1="87.30" x2="404.10" y2="87.30" stroke="#000" stroke-width="1.0"/>
<text x="398.60" y="89.60" font-size="6.5" text-anchor="end" textLength="9.76" lengthAdjust="spacingAndGlyphs" fill="#231f20" style="stroke-width:0.08px">100</text>
<line x1="401.30" y1="105.50" x2="404.10" y2="105.50" stroke="#000" stroke-width="1.0"/>
<text x="398.60" y="107.80" font-size="6.5" text-anchor="end" textLength="3.25" lengthAdjust="spacingAndGlyphs" fill="#231f20" style="stroke-width:0.08px">0</text>
<line x1="404.10" y1="105.50" x2="512.50" y2="105.50" stroke="#000" stroke-width="1.3"/>
<line x1="412.70" y1="105.50" x2="412.70" y2="108.90" stroke="#000" stroke-width="1.0"/>
<rect x="406.60" y="87.50" width="5.80" height="18.00" fill="#a2002c"/>
<rect x="413.00" y="87.50" width="5.60" height="18.00" fill="#2f4878"/>
<text x="412.70" y="118.10" font-size="6.5" text-anchor="middle" textLength="3.25" lengthAdjust="spacingAndGlyphs" fill="#231f20" style="stroke-width:0.08px">0</text>
<line x1="430.95" y1="105.50" x2="430.95" y2="108.90" stroke="#000" stroke-width="1.0"/>
<rect x="424.85" y="75.00" width="5.80" height="30.50" fill="#a2002c"/>
<line x1="427.75" y1="75.00" x2="427.75" y2="74.50" stroke="#333" stroke-width="1.0"/>
<line x1="426.55" y1="74.60" x2="428.95" y2="74.60" stroke="#111" stroke-width="1.2"/>
<rect x="431.25" y="87.50" width="5.60" height="18.00" fill="#2f4878"/>
<text x="430.95" y="118.10" font-size="6.5" text-anchor="middle" textLength="8.13" lengthAdjust="spacingAndGlyphs" fill="#231f20" style="stroke-width:0.08px">0.1</text>
<line x1="449.20" y1="105.50" x2="449.20" y2="108.90" stroke="#000" stroke-width="1.0"/>
<rect x="443.10" y="63.75" width="5.80" height="41.75" fill="#a2002c"/>
<line x1="446.00" y1="63.75" x2="446.00" y2="61.25" stroke="#333" stroke-width="1.0"/>
<line x1="444.80" y1="61.35" x2="447.20" y2="61.35" stroke="#111" stroke-width="1.2"/>
<rect x="449.50" y="86.25" width="5.60" height="19.25" fill="#2f4878"/>
<line x1="452.30" y1="86.25" x2="452.30" y2="85.50" stroke="#333" stroke-width="1.0"/>
<line x1="451.10" y1="85.60" x2="453.50" y2="85.60" stroke="#111" stroke-width="1.2"/>
<text x="449.20" y="118.10" font-size="6.5" text-anchor="middle" textLength="8.13" lengthAdjust="spacingAndGlyphs" fill="#231f20" style="stroke-width:0.08px">0.5</text>
<line x1="467.45" y1="105.50" x2="467.45" y2="108.90" stroke="#000" stroke-width="1.0"/>
<rect x="461.35" y="56.10" width="5.80" height="49.40" fill="#a2002c"/>
<line x1="464.25" y1="56.10" x2="464.25" y2="55.00" stroke="#333" stroke-width="1.0"/>
<line x1="463.05" y1="55.10" x2="465.45" y2="55.10" stroke="#111" stroke-width="1.2"/>
<rect x="467.75" y="85.80" width="5.60" height="19.70" fill="#2f4878"/>
<line x1="470.55" y1="85.80" x2="470.55" y2="85.20" stroke="#333" stroke-width="1.0"/>
<line x1="469.35" y1="85.30" x2="471.75" y2="85.30" stroke="#111" stroke-width="1.2"/>
<text x="467.45" y="118.10" font-size="6.5" text-anchor="middle" textLength="3.25" lengthAdjust="spacingAndGlyphs" fill="#231f20" style="stroke-width:0.08px">1</text>
<line x1="485.70" y1="105.50" x2="485.70" y2="108.90" stroke="#000" stroke-width="1.0"/>
<rect x="479.60" y="49.10" width="5.80" height="56.40" fill="#a2002c"/>
<line x1="482.50" y1="49.10" x2="482.50" y2="45.10" stroke="#333" stroke-width="1.0"/>
<line x1="481.30" y1="45.20" x2="483.70" y2="45.20" stroke="#111" stroke-width="1.2"/>
<rect x="486.00" y="80.70" width="5.60" height="24.80" fill="#2f4878"/>
<line x1="488.80" y1="80.70" x2="488.80" y2="76.00" stroke="#333" stroke-width="1.0"/>
<line x1="487.60" y1="76.10" x2="490.00" y2="76.10" stroke="#111" stroke-width="1.2"/>
<text x="485.70" y="118.10" font-size="6.5" text-anchor="middle" textLength="3.25" lengthAdjust="spacingAndGlyphs" fill="#231f20" style="stroke-width:0.08px">5</text>
<line x1="503.95" y1="105.50" x2="503.95" y2="108.90" stroke="#000" stroke-width="1.0"/>
<rect x="497.85" y="39.80" width="5.80" height="65.70" fill="#a2002c"/>
<line x1="500.75" y1="39.80" x2="500.75" y2="34.60" stroke="#333" stroke-width="1.0"/>
<line x1="499.55" y1="34.70" x2="501.95" y2="34.70" stroke="#111" stroke-width="1.2"/>
<rect x="504.25" y="71.80" width="5.60" height="33.70" fill="#2f4878"/>
<line x1="507.05" y1="71.80" x2="507.05" y2="65.00" stroke="#333" stroke-width="1.0"/>
<line x1="505.85" y1="65.10" x2="508.25" y2="65.10" stroke="#111" stroke-width="1.2"/>
<text x="503.95" y="118.10" font-size="6.5" text-anchor="middle" textLength="6.51" lengthAdjust="spacingAndGlyphs" fill="#231f20" style="stroke-width:0.08px">10</text>
<line x1="446.00" y1="59.25" x2="452.60" y2="59.25" stroke="#111" stroke-width="1.0"/>
<ellipse cx="448.70" cy="56.55" rx="0.95" ry="0.8" fill="#222"/>
<line x1="464.25" y1="51.90" x2="470.85" y2="51.90" stroke="#111" stroke-width="1.0"/>
<ellipse cx="466.95" cy="49.20" rx="0.95" ry="0.8" fill="#222"/>
<line x1="482.50" y1="43.30" x2="489.10" y2="43.30" stroke="#111" stroke-width="1.0"/>
<ellipse cx="485.20" cy="40.60" rx="0.95" ry="0.8" fill="#222"/>
<line x1="500.75" y1="32.30" x2="507.35" y2="32.30" stroke="#111" stroke-width="1.0"/>
<ellipse cx="503.45" cy="29.60" rx="0.95" ry="0.8" fill="#222"/>
<text x="458.25" y="129.50" font-size="8.7" text-anchor="middle" textLength="56.80" lengthAdjust="spacingAndGlyphs" fill="#231f20">CRP-XL (μg/mL)</text>
<text x="381.10" y="68.10" font-size="8.4" text-anchor="middle" textLength="84.60" lengthAdjust="spacingAndGlyphs" fill="#231f20" transform="rotate(-90 381.10 68.10)">P-selectin exposure (%)</text>
<line x1="377.10" y1="22.60" x2="377.10" y2="26.40" stroke="#777" stroke-width="0.6"/>
<line x1="378.30" y1="22.60" x2="378.30" y2="26.40" stroke="#777" stroke-width="0.6"/>
<line x1="379.50" y1="22.60" x2="379.50" y2="26.40" stroke="#777" stroke-width="0.6"/>
<line x1="258.40" y1="169.70" x2="258.40" y2="244.90" stroke="#000" stroke-width="1.3"/>
<line x1="255.60" y1="172.30" x2="258.40" y2="172.30" stroke="#000" stroke-width="1.0"/>
<text x="252.90" y="174.60" font-size="6.5" text-anchor="end" textLength="9.76" lengthAdjust="spacingAndGlyphs" fill="#231f20" style="stroke-width:0.08px">250</text>
<line x1="255.60" y1="186.80" x2="258.40" y2="186.80" stroke="#000" stroke-width="1.0"/>
<text x="252.90" y="189.10" font-size="6.5" text-anchor="end" textLength="9.76" lengthAdjust="spacingAndGlyphs" fill="#231f20" style="stroke-width:0.08px">200</text>
<line x1="255.60" y1="201.30" x2="258.40" y2="201.30" stroke="#000" stroke-width="1.0"/>
<text x="252.90" y="203.60" font-size="6.5" text-anchor="end" textLength="9.76" lengthAdjust="spacingAndGlyphs" fill="#231f20" style="stroke-width:0.08px">150</text>
<line x1="255.60" y1="215.80" x2="258.40" y2="215.80" stroke="#000" stroke-width="1.0"/>
<text x="252.90" y="218.10" font-size="6.5" text-anchor="end" textLength="9.76" lengthAdjust="spacingAndGlyphs" fill="#231f20" style="stroke-width:0.08px">100</text>
<line x1="255.60" y1="230.30" x2="258.40" y2="230.30" stroke="#000" stroke-width="1.0"/>
<text x="252.90" y="232.60" font-size="6.5" text-anchor="end" textLength="6.51" lengthAdjust="spacingAndGlyphs" fill="#231f20" style="stroke-width:0.08px">50</text>
<line x1="255.60" y1="244.90" x2="258.40" y2="244.90" stroke="#000" stroke-width="1.0"/>
<text x="252.90" y="247.20" font-size="6.5" text-anchor="end" textLength="3.25" lengthAdjust="spacingAndGlyphs" fill="#231f20" style="stroke-width:0.08px">0</text>
<line x1="258.40" y1="244.90" x2="366.70" y2="244.90" stroke="#000" stroke-width="1.3"/>
<line x1="267.35" y1="244.90" x2="267.35" y2="248.30" stroke="#000" stroke-width="1.0"/>
<rect x="261.25" y="215.80" width="5.80" height="29.10" fill="#a2002c"/>
<rect x="267.65" y="215.80" width="5.60" height="29.10" fill="#2f4878"/>
<text x="267.35" y="257.30" font-size="6.5" text-anchor="middle" textLength="3.25" lengthAdjust="spacingAndGlyphs" fill="#231f20" style="stroke-width:0.08px">0</text>
<line x1="285.60" y1="244.90" x2="285.60" y2="248.30" stroke="#000" stroke-width="1.0"/>
<rect x="279.50" y="215.00" width="5.80" height="29.90" fill="#a2002c"/>
<line x1="282.40" y1="215.00" x2="282.40" y2="214.50" stroke="#333" stroke-width="1.0"/>
<line x1="281.20" y1="214.60" x2="283.60" y2="214.60" stroke="#111" stroke-width="1.2"/>
<rect x="285.90" y="216.25" width="5.60" height="28.65" fill="#2f4878"/>
<text x="285.60" y="257.30" font-size="6.5" text-anchor="middle" textLength="8.13" lengthAdjust="spacingAndGlyphs" fill="#231f20" style="stroke-width:0.08px">0.5</text>
<line x1="303.85" y1="244.90" x2="303.85" y2="248.30" stroke="#000" stroke-width="1.0"/>
<rect x="297.75" y="215.75" width="5.80" height="29.15" fill="#a2002c"/>
<line x1="300.65" y1="215.75" x2="300.65" y2="215.00" stroke="#333" stroke-width="1.0"/>
<line x1="299.45" y1="215.10" x2="301.85" y2="215.10" stroke="#111" stroke-width="1.2"/>
<rect x="304.15" y="215.50" width="5.60" height="29.40" fill="#2f4878"/>
<line x1="306.95" y1="215.50" x2="306.95" y2="215.00" stroke="#333" stroke-width="1.0"/>
<line x1="305.75" y1="215.10" x2="308.15" y2="215.10" stroke="#111" stroke-width="1.2"/>
<text x="303.85" y="257.30" font-size="6.5" text-anchor="middle" textLength="3.25" lengthAdjust="spacingAndGlyphs" fill="#231f20" style="stroke-width:0.08px">1</text>
<line x1="322.10" y1="244.90" x2="322.10" y2="248.30" stroke="#000" stroke-width="1.0"/>
<rect x="316.00" y="196.25" width="5.80" height="48.65" fill="#a2002c"/>
<line x1="318.90" y1="196.25" x2="318.90" y2="193.75" stroke="#333" stroke-width="1.0"/>
<line x1="317.70" y1="193.85" x2="320.10" y2="193.85" stroke="#111" stroke-width="1.2"/>
<rect x="322.40" y="211.25" width="5.60" height="33.65" fill="#2f4878"/>
<line x1="325.20" y1="211.25" x2="325.20" y2="210.00" stroke="#333" stroke-width="1.0"/>
<line x1="324.00" y1="210.10" x2="326.40" y2="210.10" stroke="#111" stroke-width="1.2"/>
<text x="322.10" y="257.30" font-size="6.5" text-anchor="middle" textLength="3.25" lengthAdjust="spacingAndGlyphs" fill="#231f20" style="stroke-width:0.08px">5</text>
<line x1="340.35" y1="244.90" x2="340.35" y2="248.30" stroke="#000" stroke-width="1.0"/>
<rect x="334.25" y="195.00" width="5.80" height="49.90" fill="#a2002c"/>
<line x1="337.15" y1="195.00" x2="337.15" y2="190.00" stroke="#333" stroke-width="1.0"/>
<line x1="335.95" y1="190.10" x2="338.35" y2="190.10" stroke="#111" stroke-width="1.2"/>
<rect x="340.65" y="205.75" width="5.60" height="39.15" fill="#2f4878"/>
<line x1="343.45" y1="205.75" x2="343.45" y2="202.00" stroke="#333" stroke-width="1.0"/>
<line x1="342.25" y1="202.10" x2="344.65" y2="202.10" stroke="#111" stroke-width="1.2"/>
<text x="340.35" y="257.30" font-size="6.5" text-anchor="middle" textLength="6.51" lengthAdjust="spacingAndGlyphs" fill="#231f20" style="stroke-width:0.08px">10</text>
<line x1="358.60" y1="244.90" x2="358.60" y2="248.30" stroke="#000" stroke-width="1.0"/>
<rect x="352.50" y="185.50" width="5.80" height="59.40" fill="#a2002c"/>
<line x1="355.40" y1="185.50" x2="355.40" y2="177.50" stroke="#333" stroke-width="1.0"/>
<line x1="354.20" y1="177.60" x2="356.60" y2="177.60" stroke="#111" stroke-width="1.2"/>
<rect x="358.90" y="205.75" width="5.60" height="39.15" fill="#2f4878"/>
<line x1="361.70" y1="205.75" x2="361.70" y2="204.50" stroke="#333" stroke-width="1.0"/>
<line x1="360.50" y1="204.60" x2="362.90" y2="204.60" stroke="#111" stroke-width="1.2"/>
<text x="358.60" y="257.30" font-size="6.5" text-anchor="middle" textLength="6.51" lengthAdjust="spacingAndGlyphs" fill="#231f20" style="stroke-width:0.08px">20</text>
<line x1="318.90" y1="192.00" x2="325.50" y2="192.00" stroke="#111" stroke-width="1.0"/>
<ellipse cx="321.60" cy="189.30" rx="0.95" ry="0.8" fill="#222"/>
<line x1="337.15" y1="188.25" x2="343.75" y2="188.25" stroke="#111" stroke-width="1.0"/>
<ellipse cx="339.85" cy="185.55" rx="0.95" ry="0.8" fill="#222"/>
<line x1="355.40" y1="175.00" x2="362.00" y2="175.00" stroke="#111" stroke-width="1.0"/>
<ellipse cx="358.10" cy="172.30" rx="0.95" ry="0.8" fill="#222"/>
<text x="312.50" y="269.50" font-size="8.7" text-anchor="middle" textLength="35.00" lengthAdjust="spacingAndGlyphs" fill="#231f20">ADP (μM)</text>
<text x="235.30" y="207.00" font-size="8.4" text-anchor="middle" textLength="83.60" lengthAdjust="spacingAndGlyphs" fill="#231f20" transform="rotate(-90 235.30 207.00)">Fibrinogen binding (%)</text>
<line x1="232.40" y1="162.00" x2="232.40" y2="165.80" stroke="#444" stroke-width="0.9"/>
<line x1="404.10" y1="168.75" x2="404.10" y2="244.90" stroke="#000" stroke-width="1.3"/>
<line x1="401.30" y1="172.30" x2="404.10" y2="172.30" stroke="#000" stroke-width="1.0"/>
<text x="398.60" y="174.60" font-size="6.5" text-anchor="end" textLength="9.76" lengthAdjust="spacingAndGlyphs" fill="#231f20" style="stroke-width:0.08px">250</text>
<line x1="401.30" y1="186.80" x2="404.10" y2="186.80" stroke="#000" stroke-width="1.0"/>
<text x="398.60" y="189.10" font-size="6.5" text-anchor="end" textLength="9.76" lengthAdjust="spacingAndGlyphs" fill="#231f20" style="stroke-width:0.08px">200</text>
<line x1="401.30" y1="201.30" x2="404.10" y2="201.30" stroke="#000" stroke-width="1.0"/>
<text x="398.60" y="203.60" font-size="6.5" text-anchor="end" textLength="9.76" lengthAdjust="spacingAndGlyphs" fill="#231f20" style="stroke-width:0.08px">150</text>
<line x1="401.30" y1="215.80" x2="404.10" y2="215.80" stroke="#000" stroke-width="1.0"/>
<text x="398.60" y="218.10" font-size="6.5" text-anchor="end" textLength="9.76" lengthAdjust="spacingAndGlyphs" fill="#231f20" style="stroke-width:0.08px">100</text>
<line x1="401.30" y1="230.30" x2="404.10" y2="230.30" stroke="#000" stroke-width="1.0"/>
<text x="398.60" y="232.60" font-size="6.5" text-anchor="end" textLength="6.51" lengthAdjust="spacingAndGlyphs" fill="#231f20" style="stroke-width:0.08px">50</text>
<line x1="401.30" y1="244.90" x2="404.10" y2="244.90" stroke="#000" stroke-width="1.0"/>
<text x="398.60" y="247.20" font-size="6.5" text-anchor="end" textLength="3.25" lengthAdjust="spacingAndGlyphs" fill="#231f20" style="stroke-width:0.08px">0</text>
<line x1="404.10" y1="244.90" x2="512.50" y2="244.90" stroke="#000" stroke-width="1.3"/>
<line x1="412.70" y1="244.90" x2="412.70" y2="248.30" stroke="#000" stroke-width="1.0"/>
<rect x="406.60" y="215.80" width="5.80" height="29.10" fill="#a2002c"/>
<rect x="413.00" y="215.80" width="5.60" height="29.10" fill="#2f4878"/>
<text x="412.70" y="257.30" font-size="6.5" text-anchor="middle" textLength="3.25" lengthAdjust="spacingAndGlyphs" fill="#231f20" style="stroke-width:0.08px">0</text>
<line x1="430.95" y1="244.90" x2="430.95" y2="248.30" stroke="#000" stroke-width="1.0"/>
<rect x="424.85" y="215.00" width="5.80" height="29.90" fill="#a2002c"/>
<line x1="427.75" y1="215.00" x2="427.75" y2="214.50" stroke="#333" stroke-width="1.0"/>
<line x1="426.55" y1="214.60" x2="428.95" y2="214.60" stroke="#111" stroke-width="1.2"/>
<rect x="431.25" y="216.00" width="5.60" height="28.90" fill="#2f4878"/>
<line x1="434.05" y1="216.00" x2="434.05" y2="215.50" stroke="#333" stroke-width="1.0"/>
<line x1="432.85" y1="215.60" x2="435.25" y2="215.60" stroke="#111" stroke-width="1.2"/>
<text x="430.95" y="257.30" font-size="6.5" text-anchor="middle" textLength="8.13" lengthAdjust="spacingAndGlyphs" fill="#231f20" style="stroke-width:0.08px">0.5</text>
<line x1="449.20" y1="244.90" x2="449.20" y2="248.30" stroke="#000" stroke-width="1.0"/>
<rect x="443.10" y="215.75" width="5.80" height="29.15" fill="#a2002c"/>
<line x1="446.00" y1="215.75" x2="446.00" y2="215.20" stroke="#333" stroke-width="1.0"/>
<line x1="444.80" y1="215.30" x2="447.20" y2="215.30" stroke="#111" stroke-width="1.2"/>
<rect x="449.50" y="215.50" width="5.60" height="29.40" fill="#2f4878"/>
<line x1="452.30" y1="215.50" x2="452.30" y2="215.00" stroke="#333" stroke-width="1.0"/>
<line x1="451.10" y1="215.10" x2="453.50" y2="215.10" stroke="#111" stroke-width="1.2"/>
<text x="449.20" y="257.30" font-size="6.5" text-anchor="middle" textLength="3.25" lengthAdjust="spacingAndGlyphs" fill="#231f20" style="stroke-width:0.08px">1</text>
<line x1="467.45" y1="244.90" x2="467.45" y2="248.30" stroke="#000" stroke-width="1.0"/>
<rect x="461.35" y="196.70" width="5.80" height="48.20" fill="#a2002c"/>
<line x1="464.25" y1="196.70" x2="464.25" y2="194.30" stroke="#333" stroke-width="1.0"/>
<line x1="463.05" y1="194.40" x2="465.45" y2="194.40" stroke="#111" stroke-width="1.2"/>
<rect x="467.75" y="213.70" width="5.60" height="31.20" fill="#2f4878"/>
<line x1="470.55" y1="213.70" x2="470.55" y2="213.00" stroke="#333" stroke-width="1.0"/>
<line x1="469.35" y1="213.10" x2="471.75" y2="213.10" stroke="#111" stroke-width="1.2"/>
<text x="467.45" y="257.30" font-size="6.5" text-anchor="middle" textLength="3.25" lengthAdjust="spacingAndGlyphs" fill="#231f20" style="stroke-width:0.08px">5</text>
<line x1="485.70" y1="244.90" x2="485.70" y2="248.30" stroke="#000" stroke-width="1.0"/>
<rect x="479.60" y="195.50" width="5.80" height="49.40" fill="#a2002c"/>
<line x1="482.50" y1="195.50" x2="482.50" y2="190.40" stroke="#333" stroke-width="1.0"/>
<line x1="481.30" y1="190.50" x2="483.70" y2="190.50" stroke="#111" stroke-width="1.2"/>
<rect x="486.00" y="213.50" width="5.60" height="31.40" fill="#2f4878"/>
<line x1="488.80" y1="213.50" x2="488.80" y2="213.00" stroke="#333" stroke-width="1.0"/>
<line x1="487.60" y1="213.10" x2="490.00" y2="213.10" stroke="#111" stroke-width="1.2"/>
<text x="485.70" y="257.30" font-size="6.5" text-anchor="middle" textLength="6.51" lengthAdjust="spacingAndGlyphs" fill="#231f20" style="stroke-width:0.08px">10</text>
<line x1="503.95" y1="244.90" x2="503.95" y2="248.30" stroke="#000" stroke-width="1.0"/>
<rect x="497.85" y="185.70" width="5.80" height="59.20" fill="#a2002c"/>
<line x1="500.75" y1="185.70" x2="500.75" y2="178.00" stroke="#333" stroke-width="1.0"/>
<line x1="499.55" y1="178.10" x2="501.95" y2="178.10" stroke="#111" stroke-width="1.2"/>
<rect x="504.25" y="214.20" width="5.60" height="30.70" fill="#2f4878"/>
<line x1="507.05" y1="214.20" x2="507.05" y2="213.50" stroke="#333" stroke-width="1.0"/>
<line x1="505.85" y1="213.60" x2="508.25" y2="213.60" stroke="#111" stroke-width="1.2"/>
<text x="503.95" y="257.30" font-size="6.5" text-anchor="middle" textLength="6.51" lengthAdjust="spacingAndGlyphs" fill="#231f20" style="stroke-width:0.08px">20</text>
<line x1="464.25" y1="192.00" x2="470.85" y2="192.00" stroke="#111" stroke-width="1.0"/>
<ellipse cx="466.95" cy="189.30" rx="0.95" ry="0.8" fill="#222"/>
<line x1="482.50" y1="188.00" x2="489.10" y2="188.00" stroke="#111" stroke-width="1.0"/>
<ellipse cx="485.20" cy="185.30" rx="0.95" ry="0.8" fill="#222"/>
<line x1="500.75" y1="175.80" x2="507.35" y2="175.80" stroke="#111" stroke-width="1.0"/>
<ellipse cx="503.45" cy="173.10" rx="0.95" ry="0.8" fill="#222"/>
<text x="458.00" y="269.50" font-size="8.7" text-anchor="middle" textLength="35.00" lengthAdjust="spacingAndGlyphs" fill="#231f20">ADP (μM)</text>
<text x="381.20" y="207.30" font-size="8.4" text-anchor="middle" textLength="84.20" lengthAdjust="spacingAndGlyphs" fill="#231f20" transform="rotate(-90 381.20 207.30)">P-selectin exposure (%)</text>
<line x1="377.20" y1="162.00" x2="377.20" y2="165.80" stroke="#777" stroke-width="0.6"/>
<line x1="378.40" y1="162.00" x2="378.40" y2="165.80" stroke="#777" stroke-width="0.6"/>
<line x1="379.60" y1="162.00" x2="379.60" y2="165.80" stroke="#777" stroke-width="0.6"/>
<line x1="258.40" y1="307.00" x2="258.40" y2="382.00" stroke="#000" stroke-width="1.3"/>
<line x1="255.60" y1="310.00" x2="258.40" y2="310.00" stroke="#000" stroke-width="1.0"/>
<text x="252.90" y="312.30" font-size="6.5" text-anchor="end" textLength="9.76" lengthAdjust="spacingAndGlyphs" fill="#231f20" style="stroke-width:0.08px">600</text>
<line x1="255.60" y1="334.00" x2="258.40" y2="334.00" stroke="#000" stroke-width="1.0"/>
<text x="252.90" y="336.30" font-size="6.5" text-anchor="end" textLength="9.76" lengthAdjust="spacingAndGlyphs" fill="#231f20" style="stroke-width:0.08px">400</text>
<line x1="255.60" y1="358.00" x2="258.40" y2="358.00" stroke="#000" stroke-width="1.0"/>
<text x="252.90" y="360.30" font-size="6.5" text-anchor="end" textLength="9.76" lengthAdjust="spacingAndGlyphs" fill="#231f20" style="stroke-width:0.08px">200</text>
<line x1="255.60" y1="382.00" x2="258.40" y2="382.00" stroke="#000" stroke-width="1.0"/>
<text x="252.90" y="384.30" font-size="6.5" text-anchor="end" textLength="3.25" lengthAdjust="spacingAndGlyphs" fill="#231f20" style="stroke-width:0.08px">0</text>
<line x1="258.40" y1="382.00" x2="366.70" y2="382.00" stroke="#000" stroke-width="1.3"/>
<line x1="267.35" y1="382.00" x2="267.35" y2="385.40" stroke="#000" stroke-width="1.0"/>
<rect x="261.25" y="370.00" width="5.80" height="12.00" fill="#a2002c"/>
<rect x="267.65" y="370.00" width="5.60" height="12.00" fill="#2f4878"/>
<text x="267.35" y="394.40" font-size="6.5" text-anchor="middle" textLength="3.25" lengthAdjust="spacingAndGlyphs" fill="#231f20" style="stroke-width:0.08px">0</text>
<line x1="285.60" y1="382.00" x2="285.60" y2="385.40" stroke="#000" stroke-width="1.0"/>
<rect x="279.50" y="368.25" width="5.80" height="13.75" fill="#a2002c"/>
<line x1="282.40" y1="368.25" x2="282.40" y2="367.00" stroke="#333" stroke-width="1.0"/>
<line x1="281.20" y1="367.10" x2="283.60" y2="367.10" stroke="#111" stroke-width="1.2"/>
<rect x="285.90" y="370.75" width="5.60" height="11.25" fill="#2f4878"/>
<line x1="288.70" y1="370.75" x2="288.70" y2="370.00" stroke="#333" stroke-width="1.0"/>
<line x1="287.50" y1="370.10" x2="289.90" y2="370.10" stroke="#111" stroke-width="1.2"/>
<text x="285.60" y="394.40" font-size="6.5" text-anchor="middle" textLength="6.51" lengthAdjust="spacingAndGlyphs" fill="#231f20" style="stroke-width:0.08px">10</text>
<line x1="303.85" y1="382.00" x2="303.85" y2="385.40" stroke="#000" stroke-width="1.0"/>
<rect x="297.75" y="368.75" width="5.80" height="13.25" fill="#a2002c"/>
<line x1="300.65" y1="368.75" x2="300.65" y2="366.25" stroke="#333" stroke-width="1.0"/>
<line x1="299.45" y1="366.35" x2="301.85" y2="366.35" stroke="#111" stroke-width="1.2"/>
<rect x="304.15" y="370.75" width="5.60" height="11.25" fill="#2f4878"/>
<line x1="306.95" y1="370.75" x2="306.95" y2="370.00" stroke="#333" stroke-width="1.0"/>
<line x1="305.75" y1="370.10" x2="308.15" y2="370.10" stroke="#111" stroke-width="1.2"/>
<text x="303.85" y="394.40" font-size="6.5" text-anchor="middle" textLength="6.51" lengthAdjust="spacingAndGlyphs" fill="#231f20" style="stroke-width:0.08px">20</text>
<line x1="322.10" y1="382.00" x2="322.10" y2="385.40" stroke="#000" stroke-width="1.0"/>
<rect x="316.00" y="367.00" width="5.80" height="15.00" fill="#a2002c"/>
<line x1="318.90" y1="367.00" x2="318.90" y2="365.50" stroke="#333" stroke-width="1.0"/>
<line x1="317.70" y1="365.60" x2="320.10" y2="365.60" stroke="#111" stroke-width="1.2"/>
<rect x="322.40" y="370.00" width="5.60" height="12.00" fill="#2f4878"/>
<line x1="325.20" y1="370.00" x2="325.20" y2="369.50" stroke="#333" stroke-width="1.0"/>
<line x1="324.00" y1="369.60" x2="326.40" y2="369.60" stroke="#111" stroke-width="1.2"/>
<text x="322.10" y="394.40" font-size="6.5" text-anchor="middle" textLength="6.51" lengthAdjust="spacingAndGlyphs" fill="#231f20" style="stroke-width:0.08px">50</text>
<line x1="340.35" y1="382.00" x2="340.35" y2="385.40" stroke="#000" stroke-width="1.0"/>
<rect x="334.25" y="350.00" width="5.80" height="32.00" fill="#a2002c"/>
<line x1="337.15" y1="350.00" x2="337.15" y2="344.50" stroke="#333" stroke-width="1.0"/>
<line x1="335.95" y1="344.60" x2="338.35" y2="344.60" stroke="#111" stroke-width="1.2"/>
<rect x="340.65" y="369.50" width="5.60" height="12.50" fill="#2f4878"/>
<line x1="343.45" y1="369.50" x2="343.45" y2="368.50" stroke="#333" stroke-width="1.0"/>
<line x1="342.25" y1="368.60" x2="344.65" y2="368.60" stroke="#111" stroke-width="1.2"/>
<text x="340.35" y="394.40" font-size="6.5" text-anchor="middle" textLength="6.51" lengthAdjust="spacingAndGlyphs" fill="#231f20" style="stroke-width:0.08px">80</text>
<line x1="358.60" y1="382.00" x2="358.60" y2="385.40" stroke="#000" stroke-width="1.0"/>
<rect x="352.50" y="330.00" width="5.80" height="52.00" fill="#a2002c"/>
<line x1="355.40" y1="330.00" x2="355.40" y2="318.75" stroke="#333" stroke-width="1.0"/>
<line x1="354.20" y1="318.85" x2="356.60" y2="318.85" stroke="#111" stroke-width="1.2"/>
<rect x="358.90" y="363.75" width="5.60" height="18.25" fill="#2f4878"/>
<line x1="361.70" y1="363.75" x2="361.70" y2="362.00" stroke="#333" stroke-width="1.0"/>
<line x1="360.50" y1="362.10" x2="362.90" y2="362.10" stroke="#111" stroke-width="1.2"/>
<text x="358.60" y="394.40" font-size="6.5" text-anchor="middle" textLength="9.76" lengthAdjust="spacingAndGlyphs" fill="#231f20" style="stroke-width:0.08px">100</text>
<line x1="337.15" y1="342.50" x2="343.75" y2="342.50" stroke="#111" stroke-width="1.0"/>
<ellipse cx="339.85" cy="339.80" rx="0.95" ry="0.8" fill="#222"/>
<line x1="355.40" y1="317.50" x2="362.00" y2="317.50" stroke="#111" stroke-width="1.0"/>
<ellipse cx="358.10" cy="314.80" rx="0.95" ry="0.8" fill="#222"/>
<text x="312.75" y="406.50" font-size="8.7" text-anchor="middle" textLength="45.50" lengthAdjust="spacingAndGlyphs" fill="#231f20">AY-NH<tspan font-size="6.09" dy="2.26">2</tspan><tspan dy="-2.26"></tspan> (μM)</text>
<text x="235.30" y="344.60" font-size="8.4" text-anchor="middle" textLength="83.60" lengthAdjust="spacingAndGlyphs" fill="#231f20" transform="rotate(-90 235.30 344.60)">Fibrinogen binding (%)</text>
<line x1="232.40" y1="299.60" x2="232.40" y2="303.40" stroke="#444" stroke-width="0.9"/>
<line x1="404.10" y1="306.25" x2="404.10" y2="382.00" stroke="#000" stroke-width="1.3"/>
<line x1="401.30" y1="309.50" x2="404.10" y2="309.50" stroke="#000" stroke-width="1.0"/>
<text x="398.60" y="311.80" font-size="6.5" text-anchor="end" textLength="9.76" lengthAdjust="spacingAndGlyphs" fill="#231f20" style="stroke-width:0.08px">250</text>
<line x1="401.30" y1="324.00" x2="404.10" y2="324.00" stroke="#000" stroke-width="1.0"/>
<text x="398.60" y="326.30" font-size="6.5" text-anchor="end" textLength="9.76" lengthAdjust="spacingAndGlyphs" fill="#231f20" style="stroke-width:0.08px">200</text>
<line x1="401.30" y1="338.50" x2="404.10" y2="338.50" stroke="#000" stroke-width="1.0"/>
<text x="398.60" y="340.80" font-size="6.5" text-anchor="end" textLength="9.76" lengthAdjust="spacingAndGlyphs" fill="#231f20" style="stroke-width:0.08px">150</text>
<line x1="401.30" y1="353.00" x2="404.10" y2="353.00" stroke="#000" stroke-width="1.0"/>
<text x="398.60" y="355.30" font-size="6.5" text-anchor="end" textLength="9.76" lengthAdjust="spacingAndGlyphs" fill="#231f20" style="stroke-width:0.08px">100</text>
<line x1="401.30" y1="367.50" x2="404.10" y2="367.50" stroke="#000" stroke-width="1.0"/>
<text x="398.60" y="369.80" font-size="6.5" text-anchor="end" textLength="6.51" lengthAdjust="spacingAndGlyphs" fill="#231f20" style="stroke-width:0.08px">50</text>
<line x1="401.30" y1="382.00" x2="404.10" y2="382.00" stroke="#000" stroke-width="1.0"/>
<text x="398.60" y="384.30" font-size="6.5" text-anchor="end" textLength="3.25" lengthAdjust="spacingAndGlyphs" fill="#231f20" style="stroke-width:0.08px">0</text>
<line x1="404.10" y1="382.00" x2="512.50" y2="382.00" stroke="#000" stroke-width="1.3"/>
<line x1="412.70" y1="382.00" x2="412.70" y2="385.40" stroke="#000" stroke-width="1.0"/>
<rect x="406.60" y="353.20" width="5.80" height="28.80" fill="#a2002c"/>
<rect x="413.00" y="353.20" width="5.60" height="28.80" fill="#2f4878"/>
<text x="412.70" y="394.40" font-size="6.5" text-anchor="middle" textLength="3.25" lengthAdjust="spacingAndGlyphs" fill="#231f20" style="stroke-width:0.08px">0</text>
<line x1="430.95" y1="382.00" x2="430.95" y2="385.40" stroke="#000" stroke-width="1.0"/>
<rect x="424.85" y="352.70" width="5.80" height="29.30" fill="#a2002c"/>
<line x1="427.75" y1="352.70" x2="427.75" y2="352.00" stroke="#333" stroke-width="1.0"/>
<line x1="426.55" y1="352.10" x2="428.95" y2="352.10" stroke="#111" stroke-width="1.2"/>
<rect x="431.25" y="354.20" width="5.60" height="27.80" fill="#2f4878"/>
<line x1="434.05" y1="354.20" x2="434.05" y2="353.50" stroke="#333" stroke-width="1.0"/>
<line x1="432.85" y1="353.60" x2="435.25" y2="353.60" stroke="#111" stroke-width="1.2"/>
<text x="430.95" y="394.40" font-size="6.5" text-anchor="middle" textLength="6.51" lengthAdjust="spacingAndGlyphs" fill="#231f20" style="stroke-width:0.08px">10</text>
<line x1="449.20" y1="382.00" x2="449.20" y2="385.40" stroke="#000" stroke-width="1.0"/>
<rect x="443.10" y="352.30" width="5.80" height="29.70" fill="#a2002c"/>
<line x1="446.00" y1="352.30" x2="446.00" y2="351.50" stroke="#333" stroke-width="1.0"/>
<line x1="444.80" y1="351.60" x2="447.20" y2="351.60" stroke="#111" stroke-width="1.2"/>
<rect x="449.50" y="354.90" width="5.60" height="27.10" fill="#2f4878"/>
<line x1="452.30" y1="354.90" x2="452.30" y2="353.20" stroke="#333" stroke-width="1.0"/>
<line x1="451.10" y1="353.30" x2="453.50" y2="353.30" stroke="#111" stroke-width="1.2"/>
<text x="449.20" y="394.40" font-size="6.5" text-anchor="middle" textLength="6.51" lengthAdjust="spacingAndGlyphs" fill="#231f20" style="stroke-width:0.08px">20</text>
<line x1="467.45" y1="382.00" x2="467.45" y2="385.40" stroke="#000" stroke-width="1.0"/>
<rect x="461.35" y="350.60" width="5.80" height="31.40" fill="#a2002c"/>
<line x1="464.25" y1="350.60" x2="464.25" y2="350.00" stroke="#333" stroke-width="1.0"/>
<line x1="463.05" y1="350.10" x2="465.45" y2="350.10" stroke="#111" stroke-width="1.2"/>
<rect x="467.75" y="352.50" width="5.60" height="29.50" fill="#2f4878"/>
<line x1="470.55" y1="352.50" x2="470.55" y2="352.00" stroke="#333" stroke-width="1.0"/>
<line x1="469.35" y1="352.10" x2="471.75" y2="352.10" stroke="#111" stroke-width="1.2"/>
<text x="467.45" y="394.40" font-size="6.5" text-anchor="middle" textLength="6.51" lengthAdjust="spacingAndGlyphs" fill="#231f20" style="stroke-width:0.08px">50</text>
<line x1="485.70" y1="382.00" x2="485.70" y2="385.40" stroke="#000" stroke-width="1.0"/>
<rect x="479.60" y="342.00" width="5.80" height="40.00" fill="#a2002c"/>
<line x1="482.50" y1="342.00" x2="482.50" y2="337.30" stroke="#333" stroke-width="1.0"/>
<line x1="481.30" y1="337.40" x2="483.70" y2="337.40" stroke="#111" stroke-width="1.2"/>
<rect x="486.00" y="352.00" width="5.60" height="30.00" fill="#2f4878"/>
<line x1="488.80" y1="352.00" x2="488.80" y2="351.50" stroke="#333" stroke-width="1.0"/>
<line x1="487.60" y1="351.60" x2="490.00" y2="351.60" stroke="#111" stroke-width="1.2"/>
<text x="485.70" y="394.40" font-size="6.5" text-anchor="middle" textLength="6.51" lengthAdjust="spacingAndGlyphs" fill="#231f20" style="stroke-width:0.08px">80</text>
<line x1="503.95" y1="382.00" x2="503.95" y2="385.40" stroke="#000" stroke-width="1.0"/>
<rect x="497.85" y="323.70" width="5.80" height="58.30" fill="#a2002c"/>
<line x1="500.75" y1="323.70" x2="500.75" y2="317.40" stroke="#333" stroke-width="1.0"/>
<line x1="499.55" y1="317.50" x2="501.95" y2="317.50" stroke="#111" stroke-width="1.2"/>
<rect x="504.25" y="349.50" width="5.60" height="32.50" fill="#2f4878"/>
<line x1="507.05" y1="349.50" x2="507.05" y2="348.50" stroke="#333" stroke-width="1.0"/>
<line x1="505.85" y1="348.60" x2="508.25" y2="348.60" stroke="#111" stroke-width="1.2"/>
<text x="503.95" y="394.40" font-size="6.5" text-anchor="middle" textLength="9.76" lengthAdjust="spacingAndGlyphs" fill="#231f20" style="stroke-width:0.08px">100</text>
<line x1="482.50" y1="336.10" x2="489.10" y2="336.10" stroke="#111" stroke-width="1.0"/>
<ellipse cx="485.20" cy="333.40" rx="0.95" ry="0.8" fill="#222"/>
<line x1="500.75" y1="316.30" x2="507.35" y2="316.30" stroke="#111" stroke-width="1.0"/>
<ellipse cx="503.45" cy="313.60" rx="0.95" ry="0.8" fill="#222"/>
<text x="458.50" y="406.50" font-size="8.7" text-anchor="middle" textLength="44.40" lengthAdjust="spacingAndGlyphs" fill="#231f20">AY-NH<tspan font-size="6.09" dy="2.26">2</tspan><tspan dy="-2.26"></tspan> (μM)</text>
<text x="381.20" y="344.30" font-size="8.4" text-anchor="middle" textLength="84.20" lengthAdjust="spacingAndGlyphs" fill="#231f20" transform="rotate(-90 381.20 344.30)">P-selectin exposure (%)</text>
<line x1="377.20" y1="299.00" x2="377.20" y2="302.80" stroke="#777" stroke-width="0.6"/>
<line x1="378.40" y1="299.00" x2="378.40" y2="302.80" stroke="#777" stroke-width="0.6"/>
<line x1="379.60" y1="299.00" x2="379.60" y2="302.80" stroke="#777" stroke-width="0.6"/>
<line x1="164.40" y1="447.20" x2="164.40" y2="521.80" stroke="#000" stroke-width="1.3"/>
<line x1="161.60" y1="448.60" x2="164.40" y2="448.60" stroke="#000" stroke-width="1.0"/>
<text x="158.90" y="450.90" font-size="6.5" text-anchor="end" textLength="9.76" lengthAdjust="spacingAndGlyphs" fill="#231f20" style="stroke-width:0.08px">300</text>
<line x1="161.60" y1="473.30" x2="164.40" y2="473.30" stroke="#000" stroke-width="1.0"/>
<text x="158.90" y="475.60" font-size="6.5" text-anchor="end" textLength="9.76" lengthAdjust="spacingAndGlyphs" fill="#231f20" style="stroke-width:0.08px">200</text>
<line x1="161.60" y1="497.60" x2="164.40" y2="497.60" stroke="#000" stroke-width="1.0"/>
<text x="158.90" y="499.90" font-size="6.5" text-anchor="end" textLength="9.76" lengthAdjust="spacingAndGlyphs" fill="#231f20" style="stroke-width:0.08px">100</text>
<line x1="161.60" y1="521.80" x2="164.40" y2="521.80" stroke="#000" stroke-width="1.0"/>
<text x="158.90" y="524.10" font-size="6.5" text-anchor="end" textLength="3.25" lengthAdjust="spacingAndGlyphs" fill="#231f20" style="stroke-width:0.08px">0</text>
<line x1="164.40" y1="521.80" x2="271.30" y2="521.80" stroke="#000" stroke-width="1.3"/>
<line x1="173.10" y1="521.80" x2="173.10" y2="525.20" stroke="#000" stroke-width="1.0"/>
<rect x="167.00" y="497.60" width="5.80" height="24.20" fill="#a2002c"/>
<rect x="173.40" y="497.60" width="5.60" height="24.20" fill="#2f4878"/>
<text x="173.10" y="534.30" font-size="6.5" text-anchor="middle" textLength="3.25" lengthAdjust="spacingAndGlyphs" fill="#231f20" style="stroke-width:0.08px">0</text>
<line x1="191.35" y1="521.80" x2="191.35" y2="525.20" stroke="#000" stroke-width="1.0"/>
<rect x="185.25" y="492.20" width="5.80" height="29.60" fill="#a2002c"/>
<line x1="188.15" y1="492.20" x2="188.15" y2="488.20" stroke="#333" stroke-width="1.0"/>
<line x1="186.95" y1="488.30" x2="189.35" y2="488.30" stroke="#111" stroke-width="1.2"/>
<rect x="191.65" y="495.40" width="5.60" height="26.40" fill="#2f4878"/>
<line x1="194.45" y1="495.40" x2="194.45" y2="495.00" stroke="#333" stroke-width="1.0"/>
<line x1="193.25" y1="495.10" x2="195.65" y2="495.10" stroke="#111" stroke-width="1.2"/>
<text x="191.35" y="534.30" font-size="6.5" text-anchor="middle" textLength="8.13" lengthAdjust="spacingAndGlyphs" fill="#231f20" style="stroke-width:0.08px">0.5</text>
<line x1="209.60" y1="521.80" x2="209.60" y2="525.20" stroke="#000" stroke-width="1.0"/>
<rect x="203.50" y="490.50" width="5.80" height="31.30" fill="#a2002c"/>
<line x1="206.40" y1="490.50" x2="206.40" y2="488.00" stroke="#333" stroke-width="1.0"/>
<line x1="205.20" y1="488.10" x2="207.60" y2="488.10" stroke="#111" stroke-width="1.2"/>
<rect x="209.90" y="489.00" width="5.60" height="32.80" fill="#2f4878"/>
<line x1="212.70" y1="489.00" x2="212.70" y2="488.00" stroke="#333" stroke-width="1.0"/>
<line x1="211.50" y1="488.10" x2="213.90" y2="488.10" stroke="#111" stroke-width="1.2"/>
<text x="209.60" y="534.30" font-size="6.5" text-anchor="middle" textLength="3.25" lengthAdjust="spacingAndGlyphs" fill="#231f20" style="stroke-width:0.08px">1</text>
<line x1="227.85" y1="521.80" x2="227.85" y2="525.20" stroke="#000" stroke-width="1.0"/>
<rect x="221.75" y="477.00" width="5.80" height="44.80" fill="#a2002c"/>
<line x1="224.65" y1="477.00" x2="224.65" y2="468.75" stroke="#333" stroke-width="1.0"/>
<line x1="223.45" y1="468.85" x2="225.85" y2="468.85" stroke="#111" stroke-width="1.2"/>
<rect x="228.15" y="495.50" width="5.60" height="26.30" fill="#2f4878"/>
<line x1="230.95" y1="495.50" x2="230.95" y2="495.00" stroke="#333" stroke-width="1.0"/>
<line x1="229.75" y1="495.10" x2="232.15" y2="495.10" stroke="#111" stroke-width="1.2"/>
<text x="227.85" y="534.30" font-size="6.5" text-anchor="middle" textLength="3.25" lengthAdjust="spacingAndGlyphs" fill="#231f20" style="stroke-width:0.08px">2</text>
<line x1="246.10" y1="521.80" x2="246.10" y2="525.20" stroke="#000" stroke-width="1.0"/>
<rect x="240.00" y="469.50" width="5.80" height="52.30" fill="#a2002c"/>
<line x1="242.90" y1="469.50" x2="242.90" y2="462.50" stroke="#333" stroke-width="1.0"/>
<line x1="241.70" y1="462.60" x2="244.10" y2="462.60" stroke="#111" stroke-width="1.2"/>
<rect x="246.40" y="490.75" width="5.60" height="31.05" fill="#2f4878"/>
<line x1="249.20" y1="490.75" x2="249.20" y2="488.25" stroke="#333" stroke-width="1.0"/>
<line x1="248.00" y1="488.35" x2="250.40" y2="488.35" stroke="#111" stroke-width="1.2"/>
<text x="246.10" y="534.30" font-size="6.5" text-anchor="middle" textLength="3.25" lengthAdjust="spacingAndGlyphs" fill="#231f20" style="stroke-width:0.08px">5</text>
<line x1="264.35" y1="521.80" x2="264.35" y2="525.20" stroke="#000" stroke-width="1.0"/>
<rect x="258.25" y="469.50" width="5.80" height="52.30" fill="#a2002c"/>
<line x1="261.15" y1="469.50" x2="261.15" y2="462.00" stroke="#333" stroke-width="1.0"/>
<line x1="259.95" y1="462.10" x2="262.35" y2="462.10" stroke="#111" stroke-width="1.2"/>
<rect x="264.65" y="485.00" width="5.60" height="36.80" fill="#2f4878"/>
<line x1="267.45" y1="485.00" x2="267.45" y2="480.50" stroke="#333" stroke-width="1.0"/>
<line x1="266.25" y1="480.60" x2="268.65" y2="480.60" stroke="#111" stroke-width="1.2"/>
<text x="264.35" y="534.30" font-size="6.5" text-anchor="middle" textLength="6.51" lengthAdjust="spacingAndGlyphs" fill="#231f20" style="stroke-width:0.08px">10</text>
<line x1="224.65" y1="466.25" x2="231.25" y2="466.25" stroke="#111" stroke-width="1.0"/>
<ellipse cx="227.35" cy="463.55" rx="0.95" ry="0.8" fill="#222"/>
<line x1="242.90" y1="461.25" x2="249.50" y2="461.25" stroke="#111" stroke-width="1.0"/>
<ellipse cx="245.60" cy="458.55" rx="0.95" ry="0.8" fill="#222"/>
<line x1="261.15" y1="460.75" x2="267.75" y2="460.75" stroke="#111" stroke-width="1.0"/>
<ellipse cx="263.85" cy="458.05" rx="0.95" ry="0.8" fill="#222"/>
<text x="218.20" y="546.80" font-size="8.7" text-anchor="middle" textLength="46.25" lengthAdjust="spacingAndGlyphs" fill="#231f20">U46619 (μM)</text>
<text x="142.40" y="483.70" font-size="8.4" text-anchor="middle" textLength="83.60" lengthAdjust="spacingAndGlyphs" fill="#231f20" transform="rotate(-90 142.40 483.70)">Fibrinogen binding (%)</text>
<line x1="139.50" y1="438.70" x2="139.50" y2="442.50" stroke="#444" stroke-width="0.9"/>
<line x1="309.50" y1="447.00" x2="309.50" y2="522.00" stroke="#000" stroke-width="1.3"/>
<line x1="306.70" y1="448.75" x2="309.50" y2="448.75" stroke="#000" stroke-width="1.0"/>
<text x="304.00" y="451.05" font-size="6.5" text-anchor="end" textLength="9.76" lengthAdjust="spacingAndGlyphs" fill="#231f20" style="stroke-width:0.08px">150</text>
<line x1="306.70" y1="473.25" x2="309.50" y2="473.25" stroke="#000" stroke-width="1.0"/>
<text x="304.00" y="475.55" font-size="6.5" text-anchor="end" textLength="9.76" lengthAdjust="spacingAndGlyphs" fill="#231f20" style="stroke-width:0.08px">100</text>
<line x1="306.70" y1="497.60" x2="309.50" y2="497.60" stroke="#000" stroke-width="1.0"/>
<text x="304.00" y="499.90" font-size="6.5" text-anchor="end" textLength="6.51" lengthAdjust="spacingAndGlyphs" fill="#231f20" style="stroke-width:0.08px">50</text>
<line x1="306.70" y1="522.00" x2="309.50" y2="522.00" stroke="#000" stroke-width="1.0"/>
<text x="304.00" y="524.30" font-size="6.5" text-anchor="end" textLength="3.25" lengthAdjust="spacingAndGlyphs" fill="#231f20" style="stroke-width:0.08px">0</text>
<line x1="309.50" y1="522.00" x2="418.75" y2="522.00" stroke="#000" stroke-width="1.3"/>
<line x1="319.00" y1="522.00" x2="319.00" y2="525.40" stroke="#000" stroke-width="1.0"/>
<rect x="312.90" y="473.25" width="5.80" height="48.75" fill="#a2002c"/>
<rect x="319.30" y="473.25" width="5.60" height="48.75" fill="#2f4878"/>
<text x="319.00" y="534.30" font-size="6.5" text-anchor="middle" textLength="3.25" lengthAdjust="spacingAndGlyphs" fill="#231f20" style="stroke-width:0.08px">0</text>
<line x1="337.25" y1="522.00" x2="337.25" y2="525.40" stroke="#000" stroke-width="1.0"/>
<rect x="331.15" y="467.50" width="5.80" height="54.50" fill="#a2002c"/>
<line x1="334.05" y1="467.50" x2="334.05" y2="465.75" stroke="#333" stroke-width="1.0"/>
<line x1="332.85" y1="465.85" x2="335.25" y2="465.85" stroke="#111" stroke-width="1.2"/>
<rect x="337.55" y="472.50" width="5.60" height="49.50" fill="#2f4878"/>
<line x1="340.35" y1="472.50" x2="340.35" y2="472.00" stroke="#333" stroke-width="1.0"/>
<line x1="339.15" y1="472.10" x2="341.55" y2="472.10" stroke="#111" stroke-width="1.2"/>
<text x="337.25" y="534.30" font-size="6.5" text-anchor="middle" textLength="8.13" lengthAdjust="spacingAndGlyphs" fill="#231f20" style="stroke-width:0.08px">0.5</text>
<line x1="355.50" y1="522.00" x2="355.50" y2="525.40" stroke="#000" stroke-width="1.0"/>
<rect x="349.40" y="463.75" width="5.80" height="58.25" fill="#a2002c"/>
<line x1="352.30" y1="463.75" x2="352.30" y2="459.50" stroke="#333" stroke-width="1.0"/>
<line x1="351.10" y1="459.60" x2="353.50" y2="459.60" stroke="#111" stroke-width="1.2"/>
<rect x="355.80" y="468.25" width="5.60" height="53.75" fill="#2f4878"/>
<line x1="358.60" y1="468.25" x2="358.60" y2="466.25" stroke="#333" stroke-width="1.0"/>
<line x1="357.40" y1="466.35" x2="359.80" y2="466.35" stroke="#111" stroke-width="1.2"/>
<text x="355.50" y="534.30" font-size="6.5" text-anchor="middle" textLength="3.25" lengthAdjust="spacingAndGlyphs" fill="#231f20" style="stroke-width:0.08px">1</text>
<line x1="373.75" y1="522.00" x2="373.75" y2="525.40" stroke="#000" stroke-width="1.0"/>
<rect x="367.65" y="463.75" width="5.80" height="58.25" fill="#a2002c"/>
<line x1="370.55" y1="463.75" x2="370.55" y2="460.75" stroke="#333" stroke-width="1.0"/>
<line x1="369.35" y1="460.85" x2="371.75" y2="460.85" stroke="#111" stroke-width="1.2"/>
<rect x="374.05" y="472.00" width="5.60" height="50.00" fill="#2f4878"/>
<line x1="376.85" y1="472.00" x2="376.85" y2="471.50" stroke="#333" stroke-width="1.0"/>
<line x1="375.65" y1="471.60" x2="378.05" y2="471.60" stroke="#111" stroke-width="1.2"/>
<text x="373.75" y="534.30" font-size="6.5" text-anchor="middle" textLength="3.25" lengthAdjust="spacingAndGlyphs" fill="#231f20" style="stroke-width:0.08px">2</text>
<line x1="392.00" y1="522.00" x2="392.00" y2="525.40" stroke="#000" stroke-width="1.0"/>
<rect x="385.90" y="461.25" width="5.80" height="60.75" fill="#a2002c"/>
<line x1="388.80" y1="461.25" x2="388.80" y2="459.50" stroke="#333" stroke-width="1.0"/>
<line x1="387.60" y1="459.60" x2="390.00" y2="459.60" stroke="#111" stroke-width="1.2"/>
<rect x="392.30" y="468.75" width="5.60" height="53.25" fill="#2f4878"/>
<line x1="395.10" y1="468.75" x2="395.10" y2="468.00" stroke="#333" stroke-width="1.0"/>
<line x1="393.90" y1="468.10" x2="396.30" y2="468.10" stroke="#111" stroke-width="1.2"/>
<text x="392.00" y="534.30" font-size="6.5" text-anchor="middle" textLength="3.25" lengthAdjust="spacingAndGlyphs" fill="#231f20" style="stroke-width:0.08px">5</text>
<line x1="410.25" y1="522.00" x2="410.25" y2="525.40" stroke="#000" stroke-width="1.0"/>
<rect x="404.15" y="460.00" width="5.80" height="62.00" fill="#a2002c"/>
<line x1="407.05" y1="460.00" x2="407.05" y2="455.00" stroke="#333" stroke-width="1.0"/>
<line x1="405.85" y1="455.10" x2="408.25" y2="455.10" stroke="#111" stroke-width="1.2"/>
<rect x="410.55" y="467.50" width="5.60" height="54.50" fill="#2f4878"/>
<line x1="413.35" y1="467.50" x2="413.35" y2="465.75" stroke="#333" stroke-width="1.0"/>
<line x1="412.15" y1="465.85" x2="414.55" y2="465.85" stroke="#111" stroke-width="1.2"/>
<text x="410.25" y="534.30" font-size="6.5" text-anchor="middle" textLength="6.51" lengthAdjust="spacingAndGlyphs" fill="#231f20" style="stroke-width:0.08px">10</text>
<line x1="370.55" y1="458.25" x2="377.15" y2="458.25" stroke="#111" stroke-width="1.0"/>
<ellipse cx="373.25" cy="455.55" rx="0.95" ry="0.8" fill="#222"/>
<line x1="388.80" y1="456.75" x2="395.40" y2="456.75" stroke="#111" stroke-width="1.0"/>
<ellipse cx="391.50" cy="454.05" rx="0.95" ry="0.8" fill="#222"/>
<line x1="407.05" y1="453.25" x2="413.65" y2="453.25" stroke="#111" stroke-width="1.0"/>
<ellipse cx="409.75" cy="450.55" rx="0.95" ry="0.8" fill="#222"/>
<text x="364.40" y="546.80" font-size="8.7" text-anchor="middle" textLength="46.25" lengthAdjust="spacingAndGlyphs" fill="#231f20">U46619 (μM)</text>
<text x="287.10" y="484.00" font-size="8.4" text-anchor="middle" textLength="84.00" lengthAdjust="spacingAndGlyphs" fill="#231f20" transform="rotate(-90 287.10 484.00)">P-selectin exposure (%)</text>
<line x1="283.10" y1="438.80" x2="283.10" y2="442.60" stroke="#777" stroke-width="0.6"/>
<line x1="284.30" y1="438.80" x2="284.30" y2="442.60" stroke="#777" stroke-width="0.6"/>
<line x1="285.50" y1="438.80" x2="285.50" y2="442.60" stroke="#777" stroke-width="0.6"/>
<rect x="261.80" y="36.90" width="4.30" height="4.40" fill="#a2002c"/>
<rect x="261.80" y="44.50" width="4.30" height="4.30" fill="#2f4878"/>
<text x="269.10" y="41.00" font-size="5.3" textLength="14.2" lengthAdjust="spacingAndGlyphs" fill="#333" style="stroke:none">Fpr2/3</text>
<text x="283.10" y="39.10" font-size="3.3" textLength="5.0" lengthAdjust="spacingAndGlyphs" fill="#555" style="stroke:none">+/+</text>
<text x="269.10" y="48.60" font-size="5.3" textLength="14.2" lengthAdjust="spacingAndGlyphs" fill="#333" style="stroke:none">Fpr2/3</text>
<text x="283.10" y="46.70" font-size="3.3" textLength="5.0" lengthAdjust="spacingAndGlyphs" fill="#555" style="stroke:none">−/−</text>
<rect x="407.70" y="36.90" width="4.30" height="4.40" fill="#a2002c"/>
<rect x="407.70" y="44.50" width="4.30" height="4.30" fill="#2f4878"/>
<text x="415.00" y="41.00" font-size="5.3" textLength="14.2" lengthAdjust="spacingAndGlyphs" fill="#333" style="stroke:none">Fpr2/3</text>
<text x="429.00" y="39.10" font-size="3.3" textLength="5.0" lengthAdjust="spacingAndGlyphs" fill="#555" style="stroke:none">+/+</text>
<text x="415.00" y="48.60" font-size="5.3" textLength="14.2" lengthAdjust="spacingAndGlyphs" fill="#333" style="stroke:none">Fpr2/3</text>
<text x="429.00" y="46.70" font-size="3.3" textLength="5.0" lengthAdjust="spacingAndGlyphs" fill="#555" style="stroke:none">−/−</text>
<rect x="261.80" y="174.90" width="4.30" height="4.40" fill="#a2002c"/>
<rect x="261.80" y="182.50" width="4.30" height="4.30" fill="#2f4878"/>
<text x="269.10" y="179.00" font-size="5.3" textLength="14.2" lengthAdjust="spacingAndGlyphs" fill="#333" style="stroke:none">Fpr2/3</text>
<text x="283.10" y="177.10" font-size="3.3" textLength="5.0" lengthAdjust="spacingAndGlyphs" fill="#555" style="stroke:none">+/+</text>
<text x="269.10" y="186.60" font-size="5.3" textLength="14.2" lengthAdjust="spacingAndGlyphs" fill="#333" style="stroke:none">Fpr2/3</text>
<text x="283.10" y="184.70" font-size="3.3" textLength="5.0" lengthAdjust="spacingAndGlyphs" fill="#555" style="stroke:none">−/−</text>
<rect x="407.70" y="174.90" width="4.30" height="4.40" fill="#a2002c"/>
<rect x="407.70" y="182.50" width="4.30" height="4.30" fill="#2f4878"/>
<text x="415.00" y="179.00" font-size="5.3" textLength="14.2" lengthAdjust="spacingAndGlyphs" fill="#333" style="stroke:none">Fpr2/3</text>
<text x="429.00" y="177.10" font-size="3.3" textLength="5.0" lengthAdjust="spacingAndGlyphs" fill="#555" style="stroke:none">+/+</text>
<text x="415.00" y="186.60" font-size="5.3" textLength="14.2" lengthAdjust="spacingAndGlyphs" fill="#333" style="stroke:none">Fpr2/3</text>
<text x="429.00" y="184.70" font-size="3.3" textLength="5.0" lengthAdjust="spacingAndGlyphs" fill="#555" style="stroke:none">−/−</text>
<rect x="261.80" y="312.00" width="4.30" height="4.40" fill="#a2002c"/>
<rect x="261.80" y="319.60" width="4.30" height="4.30" fill="#2f4878"/>
<text x="269.10" y="316.10" font-size="5.3" textLength="14.2" lengthAdjust="spacingAndGlyphs" fill="#333" style="stroke:none">Fpr2/3</text>
<text x="283.10" y="314.20" font-size="3.3" textLength="5.0" lengthAdjust="spacingAndGlyphs" fill="#555" style="stroke:none">+/+</text>
<text x="269.10" y="323.70" font-size="5.3" textLength="14.2" lengthAdjust="spacingAndGlyphs" fill="#333" style="stroke:none">Fpr2/3</text>
<text x="283.10" y="321.80" font-size="3.3" textLength="5.0" lengthAdjust="spacingAndGlyphs" fill="#555" style="stroke:none">−/−</text>
<rect x="407.70" y="312.00" width="4.30" height="4.40" fill="#a2002c"/>
<rect x="407.70" y="319.60" width="4.30" height="4.30" fill="#2f4878"/>
<text x="415.00" y="316.10" font-size="5.3" textLength="14.2" lengthAdjust="spacingAndGlyphs" fill="#333" style="stroke:none">Fpr2/3</text>
<text x="429.00" y="314.20" font-size="3.3" textLength="5.0" lengthAdjust="spacingAndGlyphs" fill="#555" style="stroke:none">+/+</text>
<text x="415.00" y="323.70" font-size="5.3" textLength="14.2" lengthAdjust="spacingAndGlyphs" fill="#333" style="stroke:none">Fpr2/3</text>
<text x="429.00" y="321.80" font-size="3.3" textLength="5.0" lengthAdjust="spacingAndGlyphs" fill="#555" style="stroke:none">−/−</text>
<rect x="167.00" y="451.20" width="4.30" height="4.40" fill="#a2002c"/>
<rect x="167.00" y="458.80" width="4.30" height="4.30" fill="#2f4878"/>
<text x="174.30" y="455.30" font-size="5.3" textLength="14.2" lengthAdjust="spacingAndGlyphs" fill="#333" style="stroke:none">Fpr2/3</text>
<text x="188.30" y="453.40" font-size="3.3" textLength="5.0" lengthAdjust="spacingAndGlyphs" fill="#555" style="stroke:none">+/+</text>
<text x="174.30" y="462.90" font-size="5.3" textLength="14.2" lengthAdjust="spacingAndGlyphs" fill="#333" style="stroke:none">Fpr2/3</text>
<text x="188.30" y="461.00" font-size="3.3" textLength="5.0" lengthAdjust="spacingAndGlyphs" fill="#555" style="stroke:none">−/−</text>
<rect x="313.80" y="451.20" width="4.30" height="4.40" fill="#a2002c"/>
<rect x="313.80" y="458.80" width="4.30" height="4.30" fill="#2f4878"/>
<text x="321.10" y="455.30" font-size="5.3" textLength="14.2" lengthAdjust="spacingAndGlyphs" fill="#333" style="stroke:none">Fpr2/3</text>
<text x="335.10" y="453.40" font-size="3.3" textLength="5.0" lengthAdjust="spacingAndGlyphs" fill="#555" style="stroke:none">+/+</text>
<text x="321.10" y="462.90" font-size="5.3" textLength="14.2" lengthAdjust="spacingAndGlyphs" fill="#333" style="stroke:none">Fpr2/3</text>
<text x="335.10" y="461.00" font-size="3.3" textLength="5.0" lengthAdjust="spacingAndGlyphs" fill="#555" style="stroke:none">−/−</text>
<rect x="257.50" y="66.30" width="2.20" height="4.30" fill="#fff"/>
<path d="M258.4,65.8 Q258.5,67.8 257.2,68.7" fill="none" stroke="#000" stroke-width="1.1"/>
<path d="M259.6,69.3 L257.9,71.2" fill="none" stroke="#000" stroke-width="1.1"/>
<rect x="0" y="0" width="520" height="1.15" fill="#000"/>
<rect x="0" y="0" width="1.1" height="556" fill="#000"/>
<rect x="518.85" y="0" width="1.15" height="556" fill="#000"/>
<rect x="0" y="554.3" width="520" height="1.7" fill="#000"/>
</svg>
</body></html>
